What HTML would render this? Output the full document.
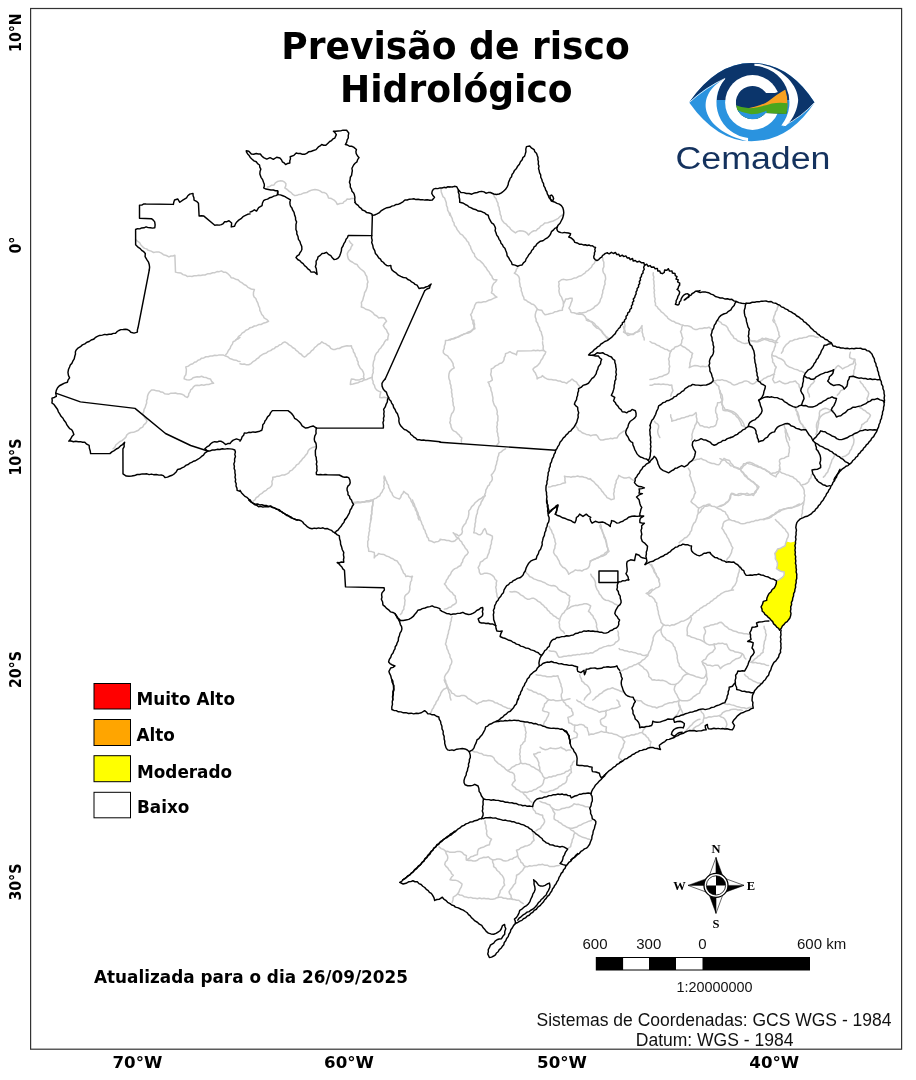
<!DOCTYPE html>
<html lang="pt-BR"><head><meta charset="utf-8"><title>Previsão de risco Hidrológico</title>
<style>
html,body{margin:0;padding:0;background:#fff;}
body{width:916px;height:1080px;position:relative;overflow:hidden;font-family:"DejaVu Sans","Liberation Sans",sans-serif;}
svg text{white-space:pre;}
.dj{font-family:"DejaVu Sans","Liberation Sans",sans-serif;font-weight:bold;fill:#000;}
.ar{font-family:"Liberation Sans",sans-serif;fill:#111;}
.tm{font-family:"Liberation Serif",serif;font-weight:bold;fill:#000;}
</style></head><body>
<svg width="916" height="1080" viewBox="0 0 916 1080" style="position:absolute;left:0;top:0">
<rect x="0" y="0" width="916" height="1080" fill="#fff"/>
<path d="M786.3 541.4 L790.7 542.4 L795.5 541.4 L795 550.1 L795.5 558.8 L796.1 567.6 L796.8 576.3 L796.1 582.8 L795 589.4 L792.8 598.1 L790.7 606.9 L790.7 615.6 L788.5 620 L784.1 624.3 L779.7 630 L775.4 625.4 L771 620 L766.6 615.6 L762.3 611.2 L761.2 606.9 L763.4 601.4 L766.6 600.3 L767.7 595.9 L771 591.6 L775.4 586.1 L776.5 580.7 L780.8 578.5 L784.1 575.2 L784.1 571.9 L779.7 570.8 L776.5 568.6 L777.6 563.2 L775.4 558.8 L774.9 553.4 L777.6 549 L781.9 547.5 L785.2 545.7Z" fill="#ffff00" stroke="none"/>
<g fill="none" stroke="#cbcbcb" stroke-width="1.5" stroke-linejoin="round" stroke-linecap="round">
<path d="M135.6 239.3 L137.35 241.19 L139.57 242.52 L140.87 245.01 L142.89 246.93 L144.46 248.39 L146.66 248.87 L148.27 250.34 L151.1 251.1 L153.66 252.51 L156.43 251.89 L159.21 252.11 L161.45 253.14 L163.46 254.67 L166.33 255.5 L168.97 256.88 L170.89 256.01 L172.97 255.96 L174.88 255.24 L175.5 272.1 L178.21 272.87 L181.02 273.09 L183.05 274.61 L185.49 275.22 L187.55 276.59 L189.76 276.13 L191.97 276.46 L194.11 275.79 L196.3 275.85 L198.44 275.21 L200.67 275.56 L202.8 274.91 L205.01 275.02 L207.47 273.84 L210.19 273.72 L212.67 272.69 L214.93 272.63 L216.98 271.58 L219.27 271.65 L221.38 270.89 L223.45 272.17 L225.88 272.37 L227.86 273.7 L229.73 275.45 L231.14 277.65 L233.46 278.11 L235.54 279.19 L237.82 279.65 L239.81 281.53 L242.16 282.93 L243.98 284.51 L246.23 285.49 L247.89 287.32 L250.04 288.44"/>
<path d="M235.6 340 L237.48 338.54 L238.59 336.35 L240.67 335.09 L242.05 333.15 L244.17 331.98 L245.87 330.24 L248.18 329.38 L249.94 327.72"/>
<path d="M267.5 186.9 L269.76 186.49 L271.73 185.18 L274.03 184.9 L275.38 182.88 L277.37 181.57 L280.02 180.87 L282.8 181.05 L284.58 182.14 L285.93 183.79 L285.76 185.93 L284.79 187.97 L287.21 189.5 L289.25 191.37 L291.27 192.6 L292.79 194.46 L294.86 195.63 L297.01 195.33 L299.08 194.43 L301.32 194.17 L303.94 192.89 L306.83 192.5 L309.41 190.92 L312.25 189.89 L314.95 189.61 L317.7 189.89 L320 190.94 L322.08 192.44 L324.34 192.59 L326.38 193.56 L327.69 195.61 L328.49 197.95 L331.48 198.6 L334.08 200.06 L336.02 201.97 L337.23 204.45 L339.99 203.53 L342.81 203.36 L344 201.59 L345.96 200.67 L347.12 198.92 L349.4 199.21 L351.52 198.44 L353.71 198.57"/>
<path d="M349.3 240.9 L350.71 243.05 L352.68 244.73 L351.19 246.84 L350.5 249.25 L348.53 251.15 L347.29 253.57 L347.59 256.28 L348.38 258.98 L350.21 260.96 L352.66 262.22 L354.63 263.74 L357.03 264.45 L358.43 266.82 L360.35 268.76 L363.45 271.07 L364.86 272.68 L365.56 274.75 L366.85 276.47 L367.13 279.25 L368.01 281.88 L367.19 284.04 L367.36 286.33 L366.7 288.48 L365.87 290.74 L364.52 292.76 L364.23 295.05 L363.45 297.19 L362.79 300.08 L361.34 302.68 L361.61 304.85 L361.28 307 L363.72 307.77 L365.67 309.26 L368.6 309.94 L371.17 311.48 L373.08 312.82 L374.46 314.74 L376.88 315.99 L378.74 317.98 L381.55 317.51 L384.3 318.01 L386.56 321.16 L384.65 323.25 L383.25 325.64 L384.69 327.92 L386.54 329.97 L387.34 332.25 L388.68 334.26 L387.94 337.12 L387.7 340.02"/>
<path d="M250 288.5 L252.12 289.35 L254.42 289.5 L253.51 292.23 L253.41 295.02 L254.11 297.01 L255.83 298.47 L256.56 300.53 L257.9 303.1 L258.59 305.94 L259.73 308 L259.81 310.42 L260.95 312.48 L261.77 314.44 L263.29 315.99 L264.13 317.95 L266.58 319.31 L268.57 321.24 L265.93 322.5 L263.07 323.34 L261.06 324.49 L258.66 324.54 L256.62 325.66 L254.29 326 L252.26 327.25 L249.97 327.71"/>
<path d="M441 189.1 L441.25 191.91 L442.2 194.58 L442.9 196.58 L444.63 198 L445.31 200.05 L446.32 202.68 L446.45 205.51 L447.49 207.61 L447.6 210.02 L448.79 212.07 L449.9 215.34"/>
<path d="M493.7 194.6 L494.49 196.9 L496.14 198.78 L496.81 201.15 L498 203.18 L498.05 205.61 L499.21 207.66 L499.3 209.89 L500.1 211.99 L500.09 214.22 L501.23 216.3 L501.31 218.72 L502.45 220.78 L504.04 222.79 L506.22 224.24 L507.84 226.26 L509.55 227.46 L510.65 229.25 L512.25 230.56 L515.46 232.86 L517.53 231.36 L519.95 230.69 L522.64 230.96 L525.28 231.8 L527.09 233.21 L528.53 235.07 L530.12 233.22 L531.93 231.73 L533.96 230.79 L536.22 230.66 L537.52 228.98 L539.41 227.95 L540.52 226.12 L542.93 224.79 L544.93 222.91 L547.76 222.73 L550.38 221.81 L553.23 220.99 L555.86 219.59 L558.3 218.31 L560.23 216.31 L563.17 214.29"/>
<path d="M450 213.1 L450.81 215.96 L452.29 218.56 L452.6 220.91 L454.03 222.88 L454.3 225.23 L456.15 227.16 L457.13 229.63 L458.77 231.66 L460.26 233.81 L462.59 235.14 L464.12 237.28 L465.81 238.88 L466.92 240.97 L468.65 242.56 L469.13 244.64 L470.47 246.34 L470.85 248.44 L471.86 250.28 L472.7 252.31 L474.33 253.91 L474.8 256.17 L476.25 257.87 L477.81 259.64 L479.99 260.68 L481.64 262.37 L483.28 263.98 L484.44 266 L486.09 267.63 L487.29 270.02 L489.11 271.98 L490.3 274.37 L491.82 275.91 L492.4 278.02 L493.8 279.64 L496.9 279.79 L495.72 281.73 L493.87 283.24 L492.69 285.27 L491.91 287.69 L492.25 290.32 L491.39 292.78 L493.45 294.09 L494.94 295.92 L496.94 297.15 L494.13 298.12 L491.52 299.45 L488.66 300.28 L486.03 301.68 L483.53 301.72 L481.14 302.47 L478.62 302.19 L476.21 302.77 L474.77 305.27 L474.08 308.13 L472.69 310.19 L472.05 312.62 L470.61 314.66 L471.6 316.81 L471.79 319.16 L472.95 321.18 L472.93 323.46 L473.99 325.54 L473.95 327.81 L472.63 330.16 L470.64 332.05 L468.25 333.12 L465.59 333.41 L463.11 334.35 L460.84 335.22 L458.94 336.85 L456.57 337.54 L454.52 338.72 L452.07 338.84 L450.04 340.11"/>
<path d="M517.7 267.7 L516.33 269.37 L515.79 271.54 L514.31 273.15 L516.83 274.54 L518.74 276.58 L519.54 278.98 L519.37 281.59 L519.98 284.09 L520.08 286.37 L521.31 288.37 L521.19 290.72 L522.15 292.79 L522.54 295.08 L523.71 297.13 L524.12 299.43 L526.19 300.24 L527.78 301.74 L529.73 302.65 L531.42 303.96 L533.56 304.5 L535.15 305.99 L537.35 309.17 L535.92 311.82 L535.25 314.72 L535.23 316.91 L536.05 319 L536.15 321.21 L537.63 323.23 L538.21 325.69 L539.56 327.77 L539.86 330.09 L541.32 332.01 L541.63 334.32 L542.63 337.08 L542.71 340.02"/>
<path d="M537.3 309.2 L539.42 310.09 L541.73 310.2 L543.13 312.67 L545.05 314.66 L547.73 314.31 L550.38 313.51 L552.69 313.13 L554.69 311.81 L557.02 311.47 L559.63 310.51 L562.41 310.37 L562.42 308.07 L563.46 306.02 L563.42 303.79 L563.23 301.53 L562.31 299.42 L561.52 297.11 L560 295.13 L559.3 292.75 L558.88 290.63 L559.35 288.42 L558.58 286.27 L559.16 284.06 L558.63 281.9 L561.43 279.74 L563.93 279.35 L566.47 280.05 L569 279.62 L571.58 279.18 L574.01 278.1 L576.62 277.69 L578.7 276.29 L581.17 275.75 L583.16 274.22 L584.96 273.08 L586.25 271.31 L588.23 270.36 L589.63 268.71 L591.46 267.24 L592.41 265.02 L594.17 263.46 L595.81 260.05"/>
<path d="M602.8 257.9 L602.86 260.15 L603.87 262.24 L603.8 264.52 L603.91 266.73 L602.83 268.78 L602.91 271.02 L603.55 272.91 L604.84 274.55 L605.4 276.55 L605.65 279.05 L604.79 281.54 L605.06 284.1 L604.01 286.21 L603.74 288.57 L602.72 290.67 L602.73 292.92 L601.91 295.01 L601.76 297.21 L600.43 299.3 L599.91 301.77 L598.41 303.76 L596.98 305.3 L594.98 306.23 L593.67 308 L591.84 309.13 L590.08 310.2 L588.04 310.7 L586.35 312.01 L584.27 312.44 L581.76 313.08 L579.11 312.84 L576.62 313.71 L573.95 312.83 L571.18 312.61 L570.36 310.17 L568.91 308.14 L570.29 305.48 L571.09 302.66 L572.07 300.58 L572.19 298.27 L570.06 298.16 L567.92 299 L565.69 298.93 L564.78 301.48 L563.45 303.78"/>
<path d="M576.6 313.6 L578.75 314.27 L581.06 314 L583.18 314.8 L585.16 316.61 L586.42 319.06 L588.5 319.77 L590.01 321.34 L591.94 322.23 L593.24 324.73 L595.28 326.64 L596.84 328.12 L598.96 328.74 L600.66 330.07 L602.3 331.66 L603.34 333.78 L605.07 335.34 L606.52 337.8 L608.35 339.96"/>
<path d="M624.7 321.2 L624.39 323.4 L625.04 325.6 L624.59 327.8 L624.52 330.05 L623.5 332.07 L625.98 333.45 L627.87 335.44 L630.6 334.58 L633.42 334.41 L635.04 332.62 L637.3 331.73 L638.87 329.96 L640.72 327.96 L642.05 325.56 L641.81 327.77 L642.4 329.93 L642.05 332.1 L642.85 334.02 L642.98 336.11 L644.12 337.92 L644.2 340.03"/>
<path d="M653.3 272.8 L653.07 275 L653.9 277.14 L653.38 279.36 L654 281.51 L653.85 283.7 L654.32 285.87 L653.83 288.07 L654.54 290.22 L654.05 292.43 L654.5 294.6 L654.4 296.8 L655.19 298.92 L654.73 301.17 L655.54 303.29 L655.41 305.51 L657.16 306.74 L658.22 308.58 L659.86 309.84 L661.39 311.95 L663.62 313.34 L665.23 315.38 L667 316.54 L667.98 318.49 L669.75 319.65 L671.78 320.96 L674.19 321.59 L676.15 323.09 L678.48 323.48 L680.54 324.64 L682.82 325.14 L684.92 325.84 L687.17 325.64 L689.28 326.32 L691.29 327.04 L692.86 328.58 L694.85 329.42 L697.37 329.38 L699.81 328.39 L702.42 328.51 L704.55 327.75 L706.85 327.98 L708.98 327.2 L712.14 329.59"/>
<path d="M682.8 325.2 L681.73 327.25 L681.67 329.65 L680.52 331.67 L681.54 333.83 L681.91 336.15 L682.89 338.27 L681.81 340.38 L681.66 342.74 L680.53 344.78 L677.98 346.22 L675.07 346.94 L673.88 348.72 L671.93 349.7 L670.76 351.46 L669.72 353.86 L669.61 356.55 L668.54 358.98 L669.26 361.49 L668.98 364.12 L669.77 366.59 L668.99 368.74 L669.29 371.05 L668.49 373.18 L666.51 374.52 L664.12 375.24 L662.05 376.59 L659.37 376.86 L657 378.16 L654.39 378.55 L652.25 379.35 L649.98 379.61"/>
<path d="M650 341.5 L652.04 342.91 L654.56 343.38 L656.56 344.87 L658.87 345.7 L660.86 347.14 L663.14 348.01 L664.89 349.18 L667.04 349.44 L668.7 350.8 L670.74 351.31"/>
<path d="M680.6 344.8 L682.57 346.56 L685.13 347.44 L687.05 349.27 L689.07 350.46 L690.67 352.19 L692.66 353.42 L691.79 355.35 L691.83 357.44 L690.71 359.21 L690.5 361.23 L689.81 363.33 L690.01 365.59 L689.2 367.68 L691.95 366.36 L694.83 365.58 L697.56 365.73 L700.19 366.66 L702.75 366.17 L705.35 366.69 L707.9 366.13"/>
<path d="M650 385.2 L652.26 385.18 L654.34 384.11 L656.61 384.18 L658.79 383.98 L660.94 384.46 L663.14 384.08 L665.3 384.58 L667.5 384.39 L669.61 385.21 L671.81 385.1 L672.13 387.99 L673 390.68 L671.49 393.27 L670.77 396.13"/>
<path d="M654.4 421.2 L655.58 422.91 L657.52 423.88 L658.64 425.66 L658.55 427.8 L657.81 429.91 L657.69 432.12 L658.45 434.95 L659.9 437.56"/>
<path d="M670.7 414.7 L670.72 416.93 L671.79 418.97 L671.72 421.21 L673.66 420.44 L675.69 420.25 L677.49 419.24 L679.52 419.08 L681.56 417.97 L683.91 417.84 L685.97 416.8 L687.99 416.57 L689.75 415.46 L691.87 415.57 L693.68 414.63 L695.96 412.56 L696.47 414.64 L696.2 416.87 L696.94 418.99 L696.79 421.21 L698.73 423.27 L700.12 425.66 L702.48 425.84 L704.51 427.05 L706.86 427.02 L708.99 427.85 L711.05 426.73 L713.45 426.67 L715.47 425.52 L716.41 423.46 L716.77 421.13 L717.79 419.03 L716.93 416.88 L716.98 414.55 L715.76 412.55 L715.56 410.28 L715.93 407.68 L717.2 405.3 L717.59 402.67 L719.99 402.52 L722.08 401.52 L721.86 399.32 L720.68 397.28 L720.79 394.91 L719.79 392.83 L719.7 390.61 L718.92 388.51 L718.89 386.28 L716.81 384.88 L715.33 382.87 L713.26 381.54"/>
<path d="M691.5 440 L692.21 437.41 L691.88 434.68 L692.68 432.11 L693.25 429.84 L694.47 427.8 L694.88 425.44 L696.29 423.48 L696.8 421.16"/>
<path d="M722.1 401.6 L722 403.82 L722.95 405.91 L722.58 408.16 L723.17 410.29 L725.27 410.82 L727.55 410.72 L729.69 411.48 L731.71 412.21 L733.24 413.81 L735.25 414.61 L736.46 416.64 L738.34 418.08 L739.42 420.16 L740.84 422.75 L741.62 425.63 L744.04 426.41 L746.07 427.86"/>
<path d="M717.7 319.7 L718.92 321.41 L720.89 322.38 L722.04 324.16 L724.35 324.95 L726.38 326.24 L727.77 327.87 L728.37 330.01 L729.79 331.65 L730.96 334.04 L732.92 335.91 L734.04 338.34 L736.08 339.06 L737.53 340.72 L739.54 341.43 L742.14 342.87 L745.04 343.61 L747.2 343.35 L749.28 342.51"/>
<path d="M713.3 380.8 L715.54 380.87 L717.66 379.9 L719.93 380.25 L722.09 379.63 L724.22 380.58 L726.54 380.86 L728.57 381.98 L730.61 382.71 L732.14 384.31 L734.15 385.11 L736.89 384.31 L739.46 382.9 L741.81 382.58 L743.82 381.29 L746.13 380.88 L748.41 381.61 L750.34 383.18 L752.64 384.02 L754.62 383.3 L756.15 381.71 L758.15 380.89"/>
<path d="M778.8 305.5 L777.39 307.54 L776.92 310.06 L775.43 312.06 L775.01 314.34 L773.95 316.38 L773.49 318.63 L774.83 321.24"/>
<path d="M774.5 374.3 L772.22 374.81 L770.16 375.95 L767.87 376.41 L766.16 377.72 L764.09 378.38 L762.44 379.76 L759.17 381.86"/>
<path d="M749.3 340.4 L751.82 341.11 L754.48 340.78 L756.99 341.58 L758.69 340.24 L760.68 339.5 L762.35 338.22 L765.05 339.6 L767.94 340.3 L770.02 341.37 L772.41 341.54 L774.48 342.66 L777.7 342.49"/>
<path d="M795.2 408.1 L795.99 410.46 L797.72 412.34 L798.43 414.74 L799.09 416.83 L799.08 419.06 L799.69 421.18 L800.98 423.56 L802.88 425.54 L803.68 427.91 L805.09 429.95"/>
<path d="M815.9 434.3 L816.79 432.21 L816.65 429.86 L817.82 427.84 L818.04 425.58 L818.62 423.43 L818.52 421.15 L819.28 419.01 L820.58 416.64 L822.56 414.75 L825.07 413.28 L827.93 412.56 L830.52 411.07 L833.44 410.39"/>
<path d="M784.3 425.6 L784.7 427.88 L786.11 429.82 L786.42 432.13 L787.51 433.99 L787.95 436.11 L789.2 437.91 L789.62 440.03"/>
<path d="M772.7 320 L773.58 321.93 L775.33 323.27 L776.13 325.25 L777.26 327.78 L777.85 330.51 L778.81 332.44 L778.84 334.64 L779.8 336.57 L777.75 338.64 L776.28 341.06 L775.41 343.25 L775.41 345.68 L774.4 347.88 L773.84 350.33 L772.43 352.46 L771.89 354.93 L771.9 357.26 L772.69 359.53 L772.59 361.91 L774.05 363.54 L774.74 365.63 L776.28 367.15 L775.01 369.69 L774.57 372.42 L773.72 374.69 L773.64 377.15 L772.6 379.37 L774.57 382.86 L777.16 382.17 L779.68 381.04 L782.16 382.73 L784.93 383.74 L787.67 383.27 L790.17 381.91 L792.84 381.76 L795.38 381.01 L796.98 383.02 L798.98 384.52 L799.14 386.74 L800.37 388.59 L800.61 390.73"/>
<path d="M750 340.1 L752.49 341.28 L755.23 341.7 L757.89 341.67 L760.49 340.93 L763.17 339.79 L765.66 338.22 L769.18 339.28 L771.62 339.47 L773.8 340.64 L776.23 340.9"/>
<path d="M771.8 354.9 L773.69 356.12 L776.01 356.37 L777.87 357.68 L780.65 358.7 L783.18 360.24 L784.63 361.76 L785.31 363.82 L786.79 365.34 L789.19 366.92 L791.95 367.91 L794.48 369.11 L797.23 369.7 L799.38 370.98 L801.89 371.29 L804.07 372.48"/>
<path d="M781.4 353.2 L782.88 351.02 L783.41 348.37 L784.97 346.24 L786.51 344.31 L788.55 342.85 L790.13 340.93 L792.6 340.66 L794.78 339.47 L797.22 339.27 L799.42 338.3 L801.85 338.29 L804.07 337.4 L806.52 337.22 L808.7 336.05 L811.12 335.78 L813.51 335.99 L815.72 337.1 L818.12 337.41"/>
<path d="M850.4 352.3 L849.65 354.9 L849.71 357.62 L852.11 358.71 L854.82 359.24 L855.09 361.93 L855.79 364.48 L854.84 366.49 L854.83 368.73 L853.83 370.68 L853.84 373.5 L853.03 376.19"/>
<path d="M854.8 359.3 L853.73 361.41 L853.15 363.72 L850.31 364.72 L847.82 366.35 L845.07 367.34 L842.63 368.97 L840.51 367.01 L838.15 365.47 L836.61 366.75 L835.45 368.52 L833.76 369.76"/>
<path d="M809.4 396.9 L809.14 394.48 L807.85 392.32 L807.68 389.88 L808.58 388.01 L810.07 386.45 L811.02 384.55 L813.04 383.04 L814.53 381.03 L812.95 379.35"/>
<path d="M837.3 395.1 L839.32 393.12 L840.72 390.63 L844.34 389.07"/>
<path d="M860 381.1 L861.14 382.99 L862.81 384.48 L863.72 386.54 L865.34 388.07 L866.23 390.03 L867.84 391.5 L868.76 393.43 L868.17 396.09 L866.95 398.58 L867.98 402.08"/>
<path d="M796.3 408.2 L796.25 410.28 L797.25 412.21 L797.12 414.31 L798.28 416.56 L798.78 419.02 L799.89 421.27 L800.74 423.22 L802.42 424.64 L803.24 426.64 L804.86 427.93 L805.85 429.74"/>
<path d="M817.2 431.8 L817.17 429.44 L816.47 427.16 L816.49 424.79 L817.1 422.4 L818.4 420.23 L818.93 417.77 L819.47 415.49 L819.32 413.1 L819.95 410.81 L822.38 409.26 L825.12 408.25 L827.18 408.63 L829.09 409.65 L831.23 409.9"/>
<path d="M858.3 406.5 L859.93 407.78 L861.9 408.48 L863.38 409.99 L865.33 410.75 L866.85 412.49 L868.93 413.54 L870.47 415.24 L869.58 417.37 L868.02 419.18 L867.07 421.34 L865.17 422.32 L863.63 423.78 L861.76 424.73 L861.54 426.93 L860.42 428.81 L860.06 430.92"/>
<path d="M853.1 434.4 L853.02 437.07 L853.99 439.63 L853.82 442.31 L853.24 444.71 L852.02 446.91 L851.39 449.33 L849.91 450.88 L849.25 452.96 L847.74 454.46 L845.62 455.98 L843.03 456.63 L840.85 458.09"/>
<path d="M835.6 454.5 L834.24 456.1 L833.43 458.08 L832.02 459.65 L831.37 462.41 L830.22 464.97 L829.67 467.42 L828.4 469.61 L827.78 472.03 L826.14 473.63 L825.04 475.63 L823.36 477.17"/>
<path d="M113.1 448.8 L114.84 447.22 L115.76 444.97 L117.56 443.45 L119.58 441.75 L121.99 440.6 L124.05 438.92 L125.75 437.33 L126.7 435.12 L128.46 433.55 L130.88 432.47 L133.59 432.32 L136.07 431.3 L138.45 430.21 L140.29 428.25 L142.65 427.07 L143.81 424.96 L145.69 423.46 L146.93 421.45 L146.21 419.42 L144.61 417.81 L144.01 415.62 L142.52 413.95 L143.76 411.85 L144.03 409.46 L145.25 407.44 L145.8 405.16 L146.69 403.07 L146.52 400.75 L147.4 398.64 L147.46 396.36 L148.19 394.22 L149.57 391.91 L151.49 389.97 L153.98 389.97 L156.44 390.84 L159.01 390.91 L160.8 392.03 L162.95 392.25 L164.55 393.75 L166.63 394.12 L168.85 394.14 L170.95 393.14 L173.22 393.2 L175.42 392.98 L177.53 393.82 L179.76 393.68 L181.89 394.29 L183.85 395.1 L185.41 396.66 L187.43 397.45 L188.57 395.75 L188.79 393.59 L190.05 391.87 L190.61 389.86 L192.3 388.6 L193.42 386.82 L195.06 385.56 L197.19 385.21 L199.41 385.51 L201.58 384.83 L203.8 385.2 L206.22 384.49 L208.76 384.54 L211.12 383.59 L213.61 383.37 L211.65 381.38 L210.37 378.94 L208.06 378.55 L206.02 377.41 L203.7 377.22 L201.62 376.25 L199.45 377 L197.18 376.73 L195.01 377.28 L193.04 377.83 L191.52 379.29 L189.55 379.89 L186.81 379.72 L184.12 378.88 L184.48 376.68 L185.87 374.7 L186.19 372.36 L186.37 369.63 L185.79 366.91 L188.35 366.15 L190.38 364.51 L192.83 363.77 L194.39 362.32 L196.46 361.72 L197.98 360.25 L200.02 359.59 L201.56 358.14 L203.84 357.92 L205.86 356.76 L208.17 356.75 L210.29 355.95 L212.5 355.97 L214.63 355.26 L216.86 355.59 L219 354.9 L221.21 354.98 L223.49 355.08 L225.58 356.06 L227.88 356.87 L229.77 358.53 L232.14 359.22 L234.01 360.07 L236.12 360.14 L237.95 361.21 L240.02 361.44"/>
<path d="M225.6 354.9 L227.26 352.87 L228.37 350.46 L230.08 348.45 L230.91 346.12 L232.39 344.13 L233.13 341.77 L234.99 340.87 L236.45 339.41 L238.39 338.72 L239.96 337.43"/>
<path d="M240 363.7 L242.15 364.21 L244.37 364.06 L246.49 364.84 L248.71 364.75 L251.06 363.57 L252.96 361.66 L255.33 360.44 L256.74 358.81 L258.66 357.78 L260 356.07 L261.83 354.94 L263.92 353.66 L266.31 352.99 L268.24 351.35 L270.62 350.65 L272.23 349.32 L274.25 348.66 L275.61 346.97 L277.72 346.45 L279.26 345.04 L281.34 344.34 L282.88 342.75 L284.86 341.89 L287.1 343.08 L289.02 344.89 L291.33 346.15 L292.8 347.75 L294.83 348.68 L296.12 350.48 L297.96 351.63 L299.32 353.29 L301.31 354.21 L302.59 355.97 L304.43 357.06 L306.34 355.8 L307.94 354.07 L309.96 352.88 L311.34 350.97 L313.32 349.67 L314.56 347.64 L316.46 346.26 L318.09 344.55 L320.29 343.54 L321.84 341.72 L323.59 343.09 L325.66 343.75 L327.26 345.17 L329.36 346.28 L330.76 348.29 L332.84 349.45 L335.03 349.52 L337.1 348.58 L339.31 348.48 L341.92 346.98 L344.82 346.25 L346.98 345.79 L349.21 346.1 L351.39 345.7 L351.78 347.88 L353.08 349.63 L353.4 351.74 L354.81 353.76 L355.41 356.18 L356.88 358.16 L357.06 360.21 L358.16 361.98 L358.1 364.07 L359.11 365.87 L360.24 368.22 L362.2 370.05 L363.36 372.43 L363.93 374.4 L363.49 376.5 L364.12 378.49 L361.88 378.65 L359.99 379.72 L357.88 379.93 L355.68 379.98 L353.59 379.17 L351.39 379.08 L350.65 381.66 L350.36 384.41 L353.03 384.02 L355.68 383.2 L357.96 382.75 L360.03 381.63 L362.32 381.17 L364.33 379.89 L366.7 379.53 L368.77 378.43 L372.13 377.28"/>
<path d="M386.3 339.7 L384.64 341.73 L383.53 344.14 L381.82 346.15 L380.74 348.05 L379.07 349.51 L378.2 351.57 L376.56 353.06 L375.47 354.95 L374.69 357.06 L374.56 359.36 L373.58 361.46 L373.25 363.71 L372.94 365.88 L373.56 368.05 L373.01 370.22 L373.26 372.4 L372.35 374.73 L372.21 377.23 L372.17 379.29 L373.08 381.22 L373.08 383.32 L374.45 385.42 L375.07 387.86 L376.56 389.87 L378.56 391.17 L380.83 392.05 L380.02 394.75 L379.8 397.52 L381.9 397.7 L384.1 397.2 L386.3 397.81 L388.5 397.43"/>
<path d="M253.1 501.2 L255 499.82 L256.15 497.7 L258.24 496.52 L259.65 494.65 L261.96 493.37 L263.85 491.5 L266.25 490.37 L267.82 488.57 L270.02 487.56 L271.64 485.82 L272.2 483.75 L271.9 481.51 L272.86 479.42 L272.72 477.19 L275.01 477.12 L277.08 476.15 L279.31 476.16 L281.75 475.09 L284.46 474.97 L286.88 473.84 L288.77 472.82 L289.99 470.95 L292.08 470.13 L293.45 468.44 L295.25 466.98 L296.5 464.95 L298.63 463.8 L299.94 461.84 L301.51 460.39 L302.59 458.52 L304.36 457.23 L305.45 455.36 L307.29 453.42 L308.18 450.83 L309.95 448.83 L312.48 447.41 L315.33 446.67"/>
<path d="M353.5 503 L355.72 503.06 L357.88 502.45 L360.13 502.79 L362.3 502.25 L364.51 502.31 L366.62 501.5 L368.85 501.65 L370.99 501.12 L372.83 500.26 L374.34 498.82 L376.31 498.11 L377.86 496.73 L379.74 495.87 L380.49 493.7 L382.06 492.04 L382.81 489.92 L384.18 488.15 L383.71 486.1 L384.4 484.1 L383.84 482.1 L384.49 480.1 L383.93 478.1 L384.21 476.1 L385.17 477.84 L385.66 479.85 L386.75 481.58 L387.21 483.58 L388.48 485.27 L388.68 487.37 L389.68 489.17 L390.4 491.28 L391.97 492.93 L392.57 495.12 L393.95 496.87 L396.59 498.11 L399.42 498.94 L400.78 497.26 L401.37 495.07 L402.9 493.42 L403.72 491.35 L405.79 493.26 L408.14 494.64 L408.89 497.03 L410.59 498.9 L411.2 501.32 L412.58 503.36 L413.34 505.7 L415.03 507.58 L415.5 510.08 L416.96 512.07 L417.04 514.18 L418.13 516 L418.22 518.09 L419.1 519.97"/>
<path d="M373.2 501.2 L372.69 503.37 L372.84 505.62 L372.06 507.76 L372.15 510.01 L371.59 511.97 L371.91 514.03 L371.27 515.98 L371.5 518.03 L370.95 519.99"/>
<path d="M473.8 320 L473.84 322.2 L474.54 324.33 L474.31 326.56 L474.95 328.69 L472.6 329.54 L470.68 331.12 L468.38 331.95 L466.33 333.35 L463.92 334.05 L461.84 335.37 L459.56 335.96 L457.51 337.12 L455.18 337.53 L453.14 338.7 L450.52 339.12 L448.09 340.21 L445.48 340.61 L445.33 343.53 L444.31 346.18 L444.29 348.44 L443.28 350.54 L443.35 352.81 L445.23 354.69 L447.64 355.94 L448.91 357.95 L450.68 359.55 L451.95 361.54 L453.07 363.55 L453.27 365.9 L454.29 367.97 L451.81 369.4 L449.84 371.36 L448.96 373.99 L448.75 376.81 L449.08 379.02 L450 381.1 L450.04 383.4 L450.98 385.48 L450.94 387.7 L451.75 389.81 L451.46 392.06 L452.07 394.19 L451.93 396.44 L452.88 398.56 L452.61 400.83 L453.19 402.99 L453.18 405.21 L454.2 407.27 L454.1 409.52 L453.3 411.8 L451.65 413.72 L450.95 416.13 L450.28 418.22 L450.5 420.49 L449.74 422.59 L450.8 424.71 L451.11 427.05 L452.09 429.17 L453.62 430.9 L455.85 431.83 L457.43 433.59 L459.1 434.8 L460.13 436.66 L461.86 437.84 L461.3 440.07 L461.48 442.31"/>
<path d="M542.6 341.8 L542.64 344.03 L543.34 346.18 L543.11 348.44 L543.75 350.59 L545.86 351.78 L545.02 353.98 L543.54 355.95 L542.68 358.24 L541.03 360.31 L539.95 362.74 L538.26 364.77 L536.58 366.38 L534.47 367.46 L532.87 369.18 L533.74 371.03 L535.18 372.66 L536.02 374.65 L537.03 376.71 L537.11 379.02 L538.87 377.68 L541.01 377.14 L542.57 375.66 L544.58 377.64 L547.04 378.94 L549.14 379.53 L551.36 379.48 L553.49 380.07 L555.76 380.02 L557.87 380.93 L560.11 381.01 L562.17 382.13 L564.51 382.33 L566.57 383.38 L568.33 381.73 L570.37 380.57 L572.06 378.95 L574.11 380.86 L576.55 382.14 L577.91 384.54 L579.77 386.55"/>
<path d="M543.7 350.6 L541.7 350.36 L539.7 350.8 L537.7 350.28 L535.7 350.78 L533.7 350.31 L531.7 350.67 L517.5 351 L516.78 352.9 L516.48 354.92 L514.31 353.68 L511.95 353 L509.92 351.65 L507.78 352.91 L505.47 353.73 L505.29 355.82 L504.22 357.6 L504.06 359.63 L503.21 361.47 L501.7 362.93 L499.54 363.45 L497.94 364.87 L495.48 365.9 L493.59 367.81 L491.24 369.01 L491.23 371.87 L490.64 374.59 L491.73 377.24 L492.33 380.02 L490.36 381.42 L487.97 382.15 L489.17 383.9 L489.52 386 L490.77 387.67 L490.98 390.3 L492 392.73 L492.35 395.31 L492.97 397.84 L492.81 400.48 L493.58 402.99 L494.39 405.27 L495.97 407.2 L496.73 409.54 L497.31 411.67 L497 413.94 L497.95 416.06 L497.83 418.31 L497.92 420.51 L497.07 422.61 L497.44 424.87 L496.7 426.99 L497.3 429.15 L496.96 431.4 L497.81 433.5 L497.82 435.71 L498.6 437.84 L498.44 440.13 L499.08 442.29 L496.76 445.47"/>
<path d="M505.5 448.8 L503.2 450.07 L501.28 451.9 L498.95 453.12 L498.62 455.42 L497.62 457.48 L497.59 459.79 L496.75 461.89 L496.52 464.17 L495.54 466.26 L495.41 468.56 L494.55 470.69 L493.09 472.96 L491.24 474.95 L492.2 477.11 L492.34 479.41 L491.48 481.25 L489.94 482.71 L489.43 484.83 L487.75 486.2 L486.96 488.14 L485.82 490.18 L485.66 492.55 L484.7 494.67"/>
<path d="M575.4 424.8 L576.26 426.75 L577.7 428.37 L578.52 430.35 L580.52 431.21 L582.12 432.68 L584.14 433.44 L586.25 434.4 L588.59 434.7 L590.68 435.75 L593.35 434.89 L596.11 434.65 L597.71 436.32 L598.83 438.43 L600.58 440.03 L603.06 439.92 L605.54 439.16 L608.11 439.09 L610.25 438.34 L612.54 438.75 L614.67 437.92 L616.91 438.02 L618.36 435.6 L620.19 433.56 L623.36 431.34 L626.72 430.36"/>
<path d="M548.5 487 L550.9 486.68 L553.16 485.71 L555.62 485.66 L557.89 484.75 L560.51 484.38 L562.9 483.16 L565.51 482.75 L564.89 480.54 L565 478.27 L564.42 476.11 L566.64 476.64 L568.86 476.65 L570.99 477.28 L573.14 476.48 L575.43 476.65 L577.59 476.04 L579.71 476.77 L582 476.45 L584.09 477.29 L586.38 477.69 L588.38 479.04 L590.72 479.35"/>
<path d="M586.3 320 L588.39 320.96 L590.7 321.28 L592.77 322.29 L594.57 323.7 L595.9 325.66 L597.92 326.9 L599.36 328.74 L601.09 330.36 L602.2 332.47 L603.86 334.15 L605.48 336 L607.52 337.4 L609.15 339.26"/>
<path d="M623.4 326.6 L623.91 328.84 L625.05 330.87 L625.51 333.13 L627.8 333.29 L629.89 334.12 L632.11 334.13 L634.14 333.54 L635.94 332.29 L638.09 331.88 L639.97 330.83"/>
<path d="M692.4 460.6 L694.63 460.28 L696.7 459.31 L699 459.26 L701.09 458.35 L703.17 459.76 L705.61 460.38 L707.62 461.86 L709.94 462.72 L712.04 463.49 L714.31 463.59 L716.38 464.55 L718.61 464.85 L720.17 463.44 L721.08 461.42 L722.87 460.15 L724.05 458.36 L726.68 459.79 L729.54 460.49 L730.72 462.93 L732.64 464.79 L733.8 467.17 L736.12 467.67 L738.12 468.91 L740.42 469.23"/>
<path d="M740.4 469.3 L742.22 467.84 L743.56 465.91 L745.57 464.65 L746.96 462.76 L749.08 463.87 L751.44 464.17 L753.46 465.36 L755.73 465.92 L757.84 466.98 L760.19 467.4 L762.24 468.64 L764.52 469.25 L766.52 470.98 L769.03 471.94 L770.97 473.75 L773.12 472.94 L775.43 472.9 L777.43 471.67 L779.72 471.59"/>
<path d="M740.4 469.3 L741.67 471.63 L743.5 473.59 L744.72 475.95 L746.56 477.11 L747.92 478.82 L749.91 479.76 L751.37 481.34 L753.47 482.45 L755.1 484.19 L757.25 485.21 L758.97 486.84 L758.05 488.64 L756.58 490.14 L756 492.21 L754.44 493.66 L753.55 495.53 L751.43 494.47 L749.04 494.4 L747.03 493.22 L744.89 494.1 L742.55 494.02 L740.52 495.12 L738.27 495.39 L736.03 494.98 L733.96 493.85 L731.68 493.35 L730.74 495.43 L730.57 497.81 L729.44 499.88 L728.07 501.48 L726.05 502.36 L724.78 504.14 L722.94 505.23 L720.86 506.2 L718.54 506.6 L716.42 507.56 L714.34 506.46 L711.98 506.28 L709.92 505.23 L707.21 506.14 L704.38 506.32 L703.23 508.2 L701.43 509.48 L700.6 511.56 L698.95 512.96"/>
<path d="M716.4 507.5 L718.49 508.81 L720.89 509.52 L722.86 511.08 L725.22 511.85 L726.02 513.94 L727.57 515.58 L728.27 517.69 L729.57 519.46 L731.65 520.39 L733.98 520.72 L736.08 521.75 L738.32 522.26 L740.35 523.41 L742.63 523.8 L744.85 523.53 L746.95 522.59 L749.28 522.55 L751.37 521.59 L753.65 521.44 L755.69 520.35 L758.02 520.43 L760.09 519.45 L762.32 519.59 L764.42 518.72 L766.65 518.87 L768.79 518.34 L771.13 517.16 L773.01 515.24 L775.43 514.15 L777.4 512.39 L779.91 511.43 L781.86 509.64 L784.17 509.43 L786.26 508.43 L788.54 508.22 L790.68 507.44 L792.95 507.26 L794.99 506.15 L797.28 506.08 L799.38 505.21 L801.76 503.92 L803.76 502.04"/>
<path d="M729.5 519.5 L726.71 520.38 L724.12 521.75 L723.07 523.8 L722.8 526.16 L721.82 528.27 L723.54 530.33 L724.62 532.73 L726.27 534.75 L727.15 537.08 L728.64 539.08 L729.45 541.42 L730.76 543.48 L731.47 545.85 L732.9 547.85 L731.89 550.04 L731.54 552.37 L730.51 554.47 L729.26 556.89 L727.23 558.75 L726.27 562.12"/>
<path d="M775.4 519.5 L776.66 521.13 L778.41 522.3 L779.63 523.97 L781.66 525.57 L783.16 527.71 L785.25 529.25 L786.15 531.22 L787.64 532.82 L788.46 534.83 L788.02 537.08 L786.87 539.14 L786.35 541.42"/>
<path d="M785.2 430 L785.24 432.2 L785.94 434.33 L785.71 436.56 L786.35 438.69 L786.85 441 L788.18 443.01 L788.61 445.36 L789.68 447.47 L789.16 449.65 L789.31 451.88 L788.6 454 L788.55 456.21 L786.21 456.78 L784.23 458.19 L781.83 458.5 L779.72 459.56 L779.39 461.5 L780.09 463.5 L779.4 465.5 L779.96 467.5 L779.31 469.5 L779.75 471.5 L781.74 472.93 L784.13 473.64 L786.21 474.68 L788.51 475.12 L790.54 476.32 L792.84 476.8 L794.32 478.43 L796.29 479.42 L797.55 481.27 L799.45 482.34 L800.62 484.76 L802.48 486.7 L803.76 489.03 L804.34 491.13 L804.15 493.38 L804.88 495.49 L804.23 497.66 L804.43 499.95 L803.72 502.09 L803.66 504.31 L802.72 506.37 L802.8 508.62 L802.21 510.75 L802.45 512.99 L801.59 515.09 L801.71 517.31"/>
<path d="M740.4 566.5 L739.47 568.97 L739.19 571.62 L738.21 574.07 L737.92 576.32 L736.92 578.38 L736.89 580.69 L736.05 582.79 L734.87 585.16 L733.03 587.11 L731.77 589.44"/>
<path d="M648.7 593.8 L650.67 592.5 L652.12 590.56 L654.24 589.44 L655.86 588.02 L657.96 587.35 L659.67 586.04 L659.73 583.51 L658.76 581.06 L658.69 578.49 L656.91 576.45 L655.89 573.95 L654.13 571.95 L653.29 569.12 L651.9 566.54 L650.48 564.72 L648.65 563.25"/>
<path d="M776.5 580.7 L778.76 579.81 L780.77 578.45 L782.67 577.07 L784.06 575.16 L784.19 571.9 L781.84 571.59 L779.71 570.75 L776.45 568.67 L777.22 565.93 L777.52 563.18 L776.66 560.92 L775.35 558.82 L775.41 556.08 L774.79 553.41 L776.41 551.3 L777.55 548.97 L779.85 548.54 L781.86 547.39 L785.24 545.78 L785.5 543.49 L786.41 541.43"/>
<path d="M353.5 502.2 L355.71 502.31 L357.89 501.75 L360.12 502.14 L362.3 501.65 L364.52 501.65 L366.62 500.78 L368.87 500.85 L370.98 500.06 L373.21 500.05"/>
<path d="M373.2 500 L372.69 502.15 L372.84 504.37 L372.06 506.49 L372.15 508.71 L371.54 510.86 L371.8 513.13 L371.1 515.28 L371.08 517.51 L370.56 519.65 L370.71 521.88 L370 524 L369.95 526.21 L369.37 528.34 L369.71 530.59 L368.89 532.7 L368.86 534.91 L368.22 537.06 L368.63 539.35 L367.68 541.46 L367.78 543.71 L367.68 546.29 L368.6 548.74 L368.69 551.32 L371.6 551.62 L374.29 552.46 L374.49 555.15 L374.23 557.9 L375.48 556.18 L377.31 555.11 L378.54 553.44 L381.29 554.36 L384.11 554.53 L386.17 555.96 L388.58 556.64 L390.68 557.95 L392.96 558.78 L394.89 560.32 L397.23 561.03 L398.66 563.44 L400.57 565.45 L401.35 568.35 L402.76 570.97 L403.47 572.98 L405.12 574.43 L405.84 576.43 L408.1 576.1 L410.3 576.69 L412.5 576.29 L411.63 578.23 L411.62 580.31 L410.47 582.07 L410.35 584.12 L409.68 586.6 L409.9 589.22 L409.14 591.69 L407.93 593.36 L406.15 594.51 L404.87 596.17 L404.46 598.27 L405.1 600.43 L404.69 602.6 L404.7 604.84 L403.81 606.95 L403.89 609.21 L402.44 610.84 L401.83 612.94 L400.41 614.54"/>
<path d="M412.5 500 L413.16 502.27 L414.44 504.29 L414.85 506.66 L416.18 508.65 L416.82 510.93 L417.99 512.99 L418.46 515.32 L419.74 517.34 L420.18 519.68 L421.27 521.77 L421.92 524.07 L423.13 526.13 L423.6 528.5 L425.05 530.47 L425.55 532.82 L426.62 534.61 L426.97 536.72 L428.43 538.35 L428.82 540.44 L431.7 541.26 L434.26 542.71 L436.14 541.71 L438.23 541.47 L439.98 540.34"/>
<path d="M485.2 495.6 L483.7 497.68 L482.65 500.03 L481.22 502.03 L480.56 504.43 L479.04 506.39 L478.27 508.73 L477.48 510.86 L477.37 513.17 L476.39 515.26 L476.08 517.52 L475.55 519.65 L475.63 521.87 L474.92 523.99 L475.01 526.21 L474.35 528.37 L474.38 530.64 L473.71 532.78 L476.12 533.13 L478.11 534.48 L480.42 534.83 L482.19 532.95 L483.19 530.47 L484.89 528.46 L486.06 531.02 L486.85 533.82 L489.72 534.73 L492.37 536.07 L492.39 538.62 L491.47 541.1 L491.39 543.71 L490.45 545.8 L490.44 548.11 L489.37 550.15 L489.15 552.41 L487.84 555.09 L486.96 557.92 L484.55 559.06 L482.71 560.99 L480.36 562.14 L479.58 565.06 L478.13 567.67 L479.15 569.79 L479.33 572.15 L480.49 574.17 L482.6 574.05 L484.68 573.17 L486.91 573.18 L489.79 573.86 L492.36 575.39 L494.05 576.99 L495.02 579.21 L496.84 580.76 L496.18 582.92 L496.4 585.19 L495.64 587.29 L496.34 589.45 L496.27 591.73 L496.89 593.88 L497.02 596.18 L497.99 598.28"/>
<path d="M485.2 495.6 L483.04 496.78 L481.26 498.51 L478.95 499.46 L477.13 501.14 L475.09 502.73 L473.68 504.94 L471.66 506.56 L470.48 508.91 L468.76 510.87 L468.86 513.67 L468.35 516.4 L467.7 518.63 L466.42 520.64 L465.9 522.94 L464 524.99 L462.55 527.34 L461.96 529.43 L462.42 531.67 L461.71 533.79 L458.64 536.06 L456.96 534.59 L454.85 534.01 L453.16 532.71 L454.93 534.81 L456.35 537.14 L458.63 538.15 L456.65 539.1 L455.12 540.71 L453.07 541.45 L450.88 541.43 L448.82 540.46 L446.59 540.47 L444.45 539.75 L442.17 539.84 L440.01 539.25"/>
<path d="M458.6 538.2 L459.77 540.25 L461.62 541.83 L462.49 544.08 L464.08 545.84 L465.32 548.17 L467.12 550.11 L468.3 552.47 L467.1 554.36 L465.22 555.87 L464.06 557.95 L462.93 559.69 L462.61 561.81 L461.34 563.52 L460.8 565.54 L458.71 566.44 L457.01 567.89 L454.92 568.66 L453.13 569.96 L451.42 571.92 L450.48 574.44 L448.64 576.36 L447.79 578.42 L446.36 580.14 L445.82 582.37 L444.35 584.07 L446.07 585.71 L447.07 587.86 L448.77 589.44 L450.18 591.32 L452.23 592.57 L453.45 594.65 L455.37 596.03 L455.3 598.33 L456.33 600.38 L456.34 602.61 L454.68 604.2 L452.49 605.23 L450.95 607.06 L448.67 607.54 L446.69 608.83 L444.37 609.12"/>
<path d="M452 616.8 L451.33 618.71 L451.31 620.76 L450.37 622.61 L450.41 624.68 L449.72 626.58 L449.49 628.86 L448.53 630.96 L448.42 633.27 L447.55 635.39 L447.33 637.64 L446.38 639.71 L446.2 641.97 L445.42 644.08 L446.64 646.15 L446.92 648.52 L448.1 650.55 L448.61 652.83 L449.89 654.86 L450.07 657.3 L451.41 659.31 L451.89 661.64 L451.34 663.84 L450.01 665.82 L449.74 668.21 L448.65 670.28 L447.42 672.6 L445.64 674.57 L444.49 676.96 L444.75 679.12 L445.79 681.18 L445.75 683.5 L446.67 685.58 L447.13 687.88 L448.36 689.89 L448.84 692.19 L449.86 694.28 L450.03 697.21 L450.98 699.99"/>
<path d="M549.2 526.2 L550.06 528.48 L551.53 530.46 L552.14 532.87 L553.55 534.88 L553.77 537.17 L554.84 539.24 L554.98 541.54 L555.78 543.68 L554.99 545.83 L554.86 548.11 L553.88 550.18 L553.55 552.41 L554.75 554.75 L556.73 556.6 L557.85 559.03 L559.19 561.07 L559.82 563.47 L561.3 565.45 L562.81 567.2 L564.96 568.24 L566.53 569.99 L567.85 571.97 L568.7 574.25 L570.87 572.57 L573.31 571.5 L575.37 569.85 L577.53 570.5 L579.79 570.28 L581.89 571.06 L583.97 569.63 L586.44 569.08 L588.47 567.63 L589.51 565.59 L589.8 563.24 L590.75 561.12 L592.77 559.85 L595.18 559.26 L597.17 557.83 L599.51 557.01 L601.47 555.43 L603.84 554.67 L605.07 552.97 L606.92 551.91 L608.03 550.13 L607.76 547.97 L606.71 545.92 L606.73 543.6 L605.79 541.53 L605.41 539.21 L604.08 537.23 L603.87 534.84 L602.65 532.82 L602.4 530.54 L601.27 528.48 L601.24 526.15 L600.42 524.02"/>
<path d="M525.2 571 L526.45 572.95 L528.22 574.48 L529.43 576.46 L531.78 577.34 L533.77 578.86 L536.13 579.63 L538.21 580.6 L540.52 580.9 L542.58 581.95 L544.92 582.76 L546.92 584.26 L549.22 585.15 L551.33 585.79 L553.59 585.51 L555.69 586.26 L557.32 587.52 L558.41 589.35 L560.18 590.52 L562.69 591.98 L565.53 592.73 L567.46 594.77 L569.93 596.06 L569.26 598.23 L569.58 600.48 L568.88 602.6 L568.86 604.81 L567.49 606.9 L566.7 609.25 L565.09 610.7 L564.13 612.64 L562.31 613.87 L561.26 615.75 L560.19 617.81 L559.9 620.16 L558.95 622.28 L559.57 624.43 L559.41 626.69 L560.18 628.79 L561.4 630.43 L563.25 631.52 L564.44 633.26"/>
<path d="M509.9 591.7 L512.07 591.94 L514.23 591.5 L516.4 591.79 L518.7 593.02 L520.64 594.87 L523.04 596.04 L525.05 597.84 L527.35 599.23 L529.53 599.13 L531.66 598.37 L533.91 598.35 L536.17 599.58 L538.09 601.39 L540.46 602.51 L541.73 604.2 L543.48 605.38 L544.73 607.07 L546.54 608.19 L547.52 610.14 L549.25 611.35 L550.35 613.11 L552.19 614.15 L553.42 615.78 L555.45 616.6 L557.07 618.07 L559.03 618.95"/>
<path d="M566.6 609.2 L568.91 608.31 L570.91 606.82 L573.24 605.98 L575.34 605.36 L577.58 605.45 L579.69 604.73 L581.93 604.6 L584.05 603.79 L586.31 603.75 L588.62 604.56 L590.68 605.95 L589.77 608.72 L588.43 611.37 L590.19 612.58 L591.23 614.4 L592.85 615.65 L593.62 618.04 L595.35 619.93 L596.02 622.34 L596.72 624.42 L596.44 626.7 L597.25 628.79 L598.2 632.13"/>
<path d="M590.7 574.2 L591.93 576.53 L593.73 578.49 L594.92 580.85 L595.54 582.94 L595.45 585.18 L596.17 587.29 L597.04 589.58 L598.55 591.57 L599.35 593.92 L601.07 595.53 L602.2 597.61 L603.84 599.27 L605.88 600.28 L608.25 600.43 L610.28 601.55 L612.6 602.41 L614.56 603.98 L616.95 604.7"/>
<path d="M549.2 650.7 L551.33 651.27 L553.56 651.17 L555.69 651.79 L556.95 653.44 L557.65 655.52 L559.06 657.16 L561.56 657.01 L564.03 656.19 L566.61 656.15 L568.77 655.56 L571.02 655.73 L573.18 655.09 L575.41 655.08 L577.53 654.37 L579.77 654.64 L581.9 653.96 L584.11 653.99 L586.23 653.24 L588.49 653.65 L590.59 652.82 L592.81 652.92 L594.91 651.22 L597.4 650.24 L599.36 648.44 L601.63 647.95 L603.67 646.86 L605.92 646.37 L608.04 645.58 L610.33 645.77 L612.49 645.11 L614.33 644.06 L615.59 642.26 L617.56 641.3 L618.97 639.66 L618.9 637.5 L618.24 635.38 L618.5 633.13 L617.82 631.01"/>
<path d="M536.1 674.7 L538.23 675.3 L540.47 675.24 L542.58 675.89 L544.83 675.99 L546.95 676.82 L549.21 676.83 L551.4 676.8 L553.51 676.07 L555.75 676.24 L557.89 675.72 L558.47 678.02 L559.54 680.08 L560.03 682.33 L560.99 684.13 L561.02 686.2 L561.96 688.02 L562.21 690.03 L562.32 692.23 L561.27 694.28 L561.28 696.51 L562.19 700.04"/>
<path d="M579.7 674.7 L580.21 676.94 L581.35 678.97 L581.81 681.23 L583.66 682.44 L585.02 684.17 L587.01 685.13 L588.47 686.74 L589.86 689.29 L590.65 692.12 L589.42 693.75 L587.64 694.91 L586.34 696.54 L584.98 698.11 L584.19 700.06"/>
<path d="M592.8 700 L594.61 698.75 L595.97 697 L597.96 695.96 L599.37 694.26 L601.73 693.11 L603.6 691.23 L605.93 690.04 L608.01 689 L610.35 688.69 L612.47 687.72 L615.13 689.06 L617.92 689.95 L620.56 691.29 L623.44 692"/>
<path d="M590 478.6 L591.8 480.43 L593.94 481.86 L595.68 484.12 L597.94 485.86 L598.97 487.71 L600.69 489 L601.66 490.88 L603.17 492.35 L604.26 494.23 L605.91 495.71 L606.96 497.63 L609.08 498.44 L610.96 499.67 L614.18 498.89 L614.09 496.33 L613.54 493.71 L614.34 491.59 L614.09 489.29 L614.99 487.22 L615.08 484.95 L616.15 482.88 L616.15 480.59 L617.83 478.16 L618.74 475.37 L621.36 476.87 L624.12 477.95 L626.73 477.88 L629.29 477.19 L631.48 479.12 L633.95 480.53"/>
<path d="M688.3 468.2 L690.14 471.43 L690.29 473.46 L689.54 475.39 L690.86 477.89 L691.45 480.62 L692.71 483.17 L693.39 485.94 L694.37 488 L694.53 490.33 L695.58 492.38 L694.25 494.9 L693.58 497.63 L692.03 499.49 L690.99 501.66 L692.73 503.34 L694.84 504.75 L696.64 506.58 L698.74 508.05 L698.14 510.72 L698.21 513.41 L697.19 515.49 L696.95 517.79 L696.04 519.88 L695.34 521.88 L693.75 523.34 L692.88 525.25 L691.91 527.74 L691.59 530.42 L690.23 532.01 L689.64 534.04 L688.23 535.56 L686.72 537.19 L684.54 537.97 L683.05 539.67 L680.93 541.05 L679.13 542.84"/>
<path d="M698.7 508.1 L701.44 506.99 L703.95 505.39 L706.04 505.25 L707.93 504.31 L710.01 504.25"/>
<path d="M599.8 525.8 L600.45 527.86 L601.71 529.65 L602.31 531.74 L603.39 533.61 L603.78 535.76 L605.1 537.53 L605.65 539.62 L606.41 541.71 L606.4 543.97 L607.08 546.08 L607.83 548.81 L609.05 551.38 L607.3 552.5 L606.17 554.27 L604.36 555.26 L602.31 556.36 L599.95 556.74 L597.94 558.01 L595.14 558.62 L592.63 559.97 L589.95 561.09"/>
<path d="M651.6 564.5 L652.69 567.21 L654.25 569.67 L654.77 572.02 L656.1 574.03 L656.72 576.33 L658.3 578.01 L659.36 580.03"/>
<path d="M764.1 626.2 L764.31 628.46 L765.55 630.46 L765.48 632.79 L766.36 634.88 L765.59 637.06 L765.51 639.38 L764.39 641.43 L764.2 643.72 L763.58 645.84 L763.89 648.09 L763.05 650.2 L763.1 652.41 L761.16 653.52 L759.92 655.35 L757.94 656.3 L756.56 657.97 L754.54 659.17 L753.01 661 L750.93 662.12"/>
<path d="M751 662.2 L753.13 662.82 L755.39 662.4 L757.49 663.3 L759.71 663.23 L761.86 664.01 L764.18 664.09 L766.23 665.21 L768.52 665.4"/>
<path d="M744.5 674.2 L745.68 675.91 L747.62 676.88 L748.74 678.66 L751.1 679.5 L753.13 680.94 L755.44 681.81 L757.48 682.89 L759.84 683.04 L761.88 684.17"/>
<path d="M724.8 703.7 L726.94 704.41 L729.26 704.08 L731.39 704.88 L734 705.32 L736.42 706.42 L739.03 706.91 L741.47 707.83 L744.14 707.8 L746.58 708.77 L749.25 707.52 L752.12 707.06"/>
<path d="M700.8 710.3 L701.6 712.28 L703.3 713.71 L704.03 715.74 L703.95 717.94 L703.21 720.07 L703.09 722.32 L700.64 723.68 L698.66 725.58 L696.29 726.38 L694.25 727.79 L692.05 730.56"/>
<path d="M704.1 717.9 L706.68 717.88 L709.12 716.81 L711.71 716.88 L714.2 716.21 L716.79 716.23 L719.29 715.61 L720.99 717.03 L723.14 717.61 L724.76 719.06 L726.22 721.62 L726.94 724.53 L726.21 726.81 L724.71 728.75"/>
<path d="M719.3 715.7 L721.35 714.54 L722.75 712.55 L724.85 711.47 L726.92 710.63 L729.19 710.46 L731.25 709.44 L733.52 709.28 L735.74 709.14 L737.87 710 L740.14 709.68 L742.29 710.37"/>
<path d="M444.2 680 L445.02 682.34 L446.7 684.25 L447.41 686.65 L445.94 688.34 L443.69 689.2 L442.17 690.99 L440.85 693.03 L440.14 695.42 L438.7 697.45 L437.98 699.81 L436.26 701.66 L435.55 704.03 L434.17 705.69 L433.49 707.78 L432.13 709.46 L431.37 711.79 L429.96 713.78"/>
<path d="M447.5 686.6 L448.71 688.94 L450.71 690.74 L451.81 693.16 L453.9 693.87 L455.32 695.59 L457.36 696.3 L459.53 696.2 L461.66 695.4 L463.92 695.41 L466.24 696.51 L468.02 698.54 L470.43 699.65 L472.45 701.36 L474.92 702.38 L476.95 704.07 L479.03 702.63 L481.41 701.95 L483.47 700.64 L486.07 700.93 L488.63 700.32 L491.2 700.8 L493.18 701.34 L494.86 702.67 L496.98 703 L498.76 704.08 L501.09 704.93 L503.13 706.34 L505.45 707.2 L507.5 708.23 L509.8 708.57 L511.86 709.61"/>
<path d="M472.6 751 L474.71 751.99 L477.1 752.08 L479.17 753.2 L481.49 753.47 L483.43 754.89 L485.74 755.19 L487.87 755.83 L490.14 755.77 L492.28 756.51 L493.98 758.04 L494.87 760.3 L496.64 761.87 L498.27 763.55 L500.4 764.59 L502.05 766.27 L504.12 767.43 L505.66 769.26 L507.64 770.55 L509.66 771.9 L512.11 772.46 L514.05 773.99 L514.66 776.03 L514.49 778.29 L515.26 780.39 L513.3 782.42 L511.95 784.83 L513.25 786.38 L515.09 787.47 L516.26 789.24 L518.56 790.08 L520.46 791.69 L522.85 792.3 L524.09 794.38 L526.04 795.82 L527.13 797.95 L528.89 799.14 L529.99 800.98 L531.68 802.22"/>
<path d="M507.6 770.6 L509.94 769.39 L511.74 767.39 L514.16 766.29 L516.13 764.79 L518.65 764.37 L520.65 762.9 L520.59 760.78 L519.88 758.63 L520.26 756.35 L519.51 754.21 L520.25 752.07 L519.96 749.83 L520.7 747.71 L520.63 745.49 L522.34 744.24 L523.35 742.36 L525.04 741.13 L525.06 738.9 L525.78 736.78 L525.45 734.53 L526.2 732.41 L525.36 730.27 L525.34 727.96 L524.26 725.92 L523.99 723.68"/>
<path d="M520.7 763 L522.82 763.67 L525.09 763.4 L527.18 764.2 L529.57 764.82 L531.45 766.54 L533.85 767.2 L535.87 768.9 L538.29 770.01 L540.24 771.8 L542.03 773.72 L542.92 776.31 L544.75 778.27 L543.71 780.38 L543.44 782.7 L542.42 784.77 L540.47 786.51 L538.01 787.6 L535.94 789.25 L533.65 789.79 L531.68 791.16 L529.26 791.28 L527.22 792.46 L525 792.05 L522.8 792.46"/>
<path d="M533.8 754.2 L534.97 756.57 L536.95 758.42 L538.01 760.86 L538.92 762.9 L538.65 765.23 L539.79 767.26 L539.7 769.55 L540.38 771.68"/>
<path d="M533.8 754.2 L536.06 753.79 L538.03 752.48 L540.33 752.2"/>
<path d="M544.7 778.3 L546.95 778.05 L548.97 776.87 L551.31 776.99 L553.37 775.99 L555.66 775.88 L557.66 774.63 L559.97 774.61 L562.08 773.82 L564.26 773.14 L565.9 771.42 L568.21 770.93 L569.97 769.45"/>
<path d="M527.2 688.7 L529.26 690.08 L531.75 690.6 L533.75 692.09 L536.11 692.46 L538.03 693.97 L540.46 694.12 L542.48 695.35 L544.82 696.54 L546.62 698.55 L549.05 699.62 L547.3 700.87 L546.27 702.7 L544.64 703.94 L544.17 706.27 L542.96 708.31 L542.58 710.63 L544.61 711.49 L546.9 711.87 L548.98 712.86 L548.3 715.64 L546.8 718.16 L545.97 720.22 L544.39 721.88 L543.77 724.07 L542.42 725.85"/>
<path d="M549 699.7 L551.16 700.3 L553.44 699.85 L555.57 700.72 L557.81 700.63 L559.99 700.61 L562.11 699.88 L564.36 700.22 L566.49 699.6 L570.02 698.67"/>
<path d="M532.7 807.7 L533.46 809.71 L535.14 811.19 L535.83 813.24 L538.17 813.72 L540.25 814.82 L542.53 815.31"/>
<path d="M542.5 815.4 L542.9 817.68 L544.31 819.62 L544.62 821.93 L543.42 824.22 L541.63 826.21 L540.38 828.55 L537.98 829.36 L535.95 830.79"/>
<path d="M562.7 700 L563.61 701.91 L565.31 703.28 L566.11 705.26 L568.15 706.05 L569.48 707.81 L571.46 708.61 L571.84 710.78 L572.86 712.69 L573.09 714.83 L570.69 716.43 L567.85 717.4 L568.53 720.07 L568.72 722.71 L570.92 723.37 L572.75 724.7 L574.94 725.22 L574.47 727.31 L574.58 729.39 L574.03 731.39 L576.08 732.45 L577.54 734.18 L576.76 737.61 L573.94 738.12 L571.42 739.36"/>
<path d="M574.9 725.3 L577.27 725.34 L579.53 724.43 L581.91 724.6 L583.88 725.31 L585.25 727.05 L587.26 727.8 L587.6 730.27 L588.6 732.5 L588.79 734.93 L591.16 734.03 L593.66 734.13 L595.89 733.15 L598.59 732.56 L601.08 731.34 L603.7 732.14 L606.41 732.21"/>
<path d="M576.7 700 L578.26 701.42 L580.36 702.05 L581.84 703.59 L583.88 704.34 L585.25 706.12 L587.26 706.9 L589.44 708.02 L591.9 708.48 L594.06 709.71 L596.89 710.62 L599.35 712.3 L601.69 711.45 L604.13 711.33 L606.38 710.44 L609.1 709.87 L611.57 708.62 L614.27 708.46 L616.89 707.84 L620.33 706.16 L619.1 704.04 L618.7 701.66 L616.86 700.04"/>
<path d="M606.4 710.5 L605.79 712.49 L606.13 714.62 L605.4 716.58 L603.98 718.09 L601.84 718.65 L600.36 720.19 L600.54 722.33 L601.18 724.49 L603.58 726.15 L606.44 727.01 L606.02 729.7 L606.46 732.3 L608.95 733.02 L611.61 733.14 L614.16 734.33 L616.93 734.81 L619.42 736.39 L622.13 737.54 L623.21 739.87 L624.8 741.84 L623.52 744.45 L623.06 747.22 L621.34 749.64 L620.35 752.43 L619.16 754.9 L618.65 757.62 L620.25 759.08 L622.17 760.21"/>
<path d="M622.1 737.6 L624.51 737.3 L626.68 736.07 L629.13 735.9 L631.34 734.86 L633.85 734.99 L636.07 733.99 L638.18 733.66 L640.09 732.64 L642.23 732.41 L643.23 729.94 L644.9 727.96"/>
<path d="M642.2 732.3 L643.45 733.99 L645.37 734.99 L646.53 736.77 L648.33 738.19 L649.21 740.38 L650.99 741.83 L650.29 744.07 L650.08 746.32"/>
<path d="M679.7 705.2 L680.31 707.95 L681.6 710.47 L683.11 714.05"/>
<path d="M700 719.2 L697.62 719.77 L695.54 721.1 L693.55 722.55 L692.05 724.55 L690.14 726.09 L688.57 727.97 L686.54 729.93 L685.08 732.36"/>
<path d="M540 747.2 L542.44 748.81 L545.25 749.7 L547.94 749.16 L550.48 747.94 L553.07 748.61 L555.72 748.81 L558.43 748.31 L560.97 747.1 L562.59 748.57 L564.66 749.25 L566.16 750.76 L568.33 749.9 L570.62 749.9"/>
<path d="M574.1 761.1 L572.64 762.67 L572.06 764.83 L570.53 766.35 L571.09 768.4 L570.97 770.49 L571.49 772.49 L569.77 773.78 L568.78 775.67 L567.05 776.85 L566.99 779.56 L566.13 782.09 L564.66 783.56 L562.55 784.16 L561.04 785.66 L559.07 786.53 L557.65 788.2 L555.67 789.05 L553.19 790.23 L550.47 790.7 L547.92 791.91 L545.17 792.5 L542.49 792.01 L540.04 790.7"/>
<path d="M540 801.3 L542.49 802.53 L545.24 803 L547.3 804.21 L549.62 804.74 L550.77 806.65 L552.28 808.24 L554.77 809.41 L557.53 809.9 L559.89 809.68 L562.09 808.53 L564.52 808.37 L566.44 807.39 L568.66 807.49 L570.58 806.53 L572.53 805.48 L574.04 803.82 L576.1 804.4 L578.21 804.21 L580.18 804.9 L582.87 805.49 L585.37 806.7 L587.66 806.68 L589.78 807.51"/>
<path d="M552.2 808.3 L553.19 811.06 L554.9 813.45 L554.13 816.11 L554.07 818.81 L555.64 820.1 L557.64 820.87 L559.15 822.37 L561.16 823.18 L562.6 824.84 L564.56 825.71 L567 827.3 L569.75 828.31 L572.36 828.28 L574.89 827.42 L577.05 826.9 L578.84 825.47 L581.02 824.96 L583.52 823.34 L586.35 822.4 L588.83 821.19 L591.53 820.6"/>
<path d="M569.7 828.4 L571.21 830.13 L573.4 831.06 L574.85 832.86 L576.79 833.75 L578.35 835.2 L580.25 836.12 L582.71 837.36 L585.43 837.9 L587.97 839.09 L590.73 839.6"/>
<path d="M574.9 832.8 L573.71 834.98 L573.5 837.53 L572.22 839.67 L571.95 842.09 L571.01 844.33 L570.69 846.72 L567.85 848.43"/>
<path d="M485 820.7 L485.06 823.31 L486.07 825.79 L486 828.41 L486.85 830.88 L486.5 833.52 L487.31 835.98 L489.25 837.78 L491.55 839.24 L490.04 841.91 L489.39 844.84 L486.46 845.5 L483.92 846.95 L481.05 847.75 L478.42 849.16 L477.57 851.79 L477.39 854.62 L475.08 855.18 L473.03 856.27 L470.78 856.74 L468.82 858.71 L466.34 859.92"/>
<path d="M439.1 846.9 L441.13 848.62 L443.69 849.55 L445.64 851.39 L447.93 851.29 L449.98 852.37 L452.22 852.29 L454.79 852.2 L457.29 851.4 L459.92 851.41 L462.24 852.51 L464.02 854.54 L466.43 855.65 L466.13 857.85 L466.47 860 L468.56 860.56 L470.84 860.25 L472.98 860.99 L475.21 861.04 L477.47 860.24 L479.37 858.63 L481.75 857.99 L483.87 857.34 L486.16 857.51 L488.29 856.74 L490.27 858.65 L492.63 859.95 L494.82 859.83 L496.94 858.97 L499.21 859.06 L501.43 859.5 L503.41 860.78 L505.73 860.99 L507.97 860.62 L509.98 859.33 L512.33 859.08 L513.93 857.62 L516.01 856.98 L517.64 855.6 L517.47 852.89 L516.48 850.22 L518.97 849.43 L520.9 847.79 L523.23 846.97 L525.31 846.01 L527.59 845.69 L529.68 844.75 L531.33 843.5 L532.42 841.65 L534.13 840.43 L533.41 837.91 L533.61 835.3 L532.93 832.81 L532 830.55"/>
<path d="M445.7 851.3 L446.14 853.6 L447.49 855.59 L447.8 857.93 L447.14 860.24 L445.4 862.08 L444.7 864.45 L445.94 866.34 L447.75 867.9 L448.91 869.97 L450.68 871.5 L451.57 873.73 L453.34 875.27 L451.43 877.34 L450.05 879.74 L452.53 880.35 L455.18 880.14 L457.69 880.85 L460.03 882.28 L462.06 884.15 L461.35 886.94 L459.8 889.46 L458.98 891.79 L457.61 893.85 L455.62 895.7 L453.24 897.13 L452.94 899.94 L452.15 902.59"/>
<path d="M457.7 893.9 L459.77 895.01 L462.17 895.23 L464.1 896.7 L466.44 897.09 L468.56 897.81 L470.85 897.37 L472.98 898.19 L475.21 898.22 L477.38 898.69 L479.55 897.98 L481.72 898.68 L483.9 898.24 L486.04 898.82 L488.28 898.58 L490.39 899.34 L492.61 899.21 L494.85 898.76 L496.94 897.7 L499.22 897.26 L501.43 897.19 L503.48 898.27 L505.71 898.24 L507.85 898.98 L510.13 898.78 L512.29 899.39 L514.5 899.48 L516.61 900.19 L518.82 900.29 L520.87 902.22 L523.24 903.65"/>
<path d="M492.6 860 L492.66 862.25 L493.67 864.34 L493.6 866.62 L495.81 868.16 L497.13 870.51 L499.28 872.02 L500.5 874 L502.28 875.53 L503.41 877.57 L504.18 880.02 L503.86 882.69 L504.66 885.19 L502.95 886.83 L501.9 888.94 L500.23 890.55 L499.85 892.89 L498.68 894.95 L498.16 897.22"/>
<path d="M517.7 855.7 L518.52 858.01 L520.2 859.88 L520.91 862.25 L522.74 863.39 L523.69 865.37 L525.48 866.52 L523.8 868.33 L522.68 870.44 L520.91 872.03 L518.99 873.96 L516.53 875.21 L516.42 877.89 L515.6 880.39 L515.57 883.01 L513.67 884.98 L512.37 887.35 L510.52 889.4 L509.05 891.74 L509.62 893.69 L511 895.35 L511.16 897.54 L512.35 899.28"/>
<path d="M525.4 866.6 L527.61 866.63 L529.71 865.71 L531.97 866.12 L534.09 865.39 L536.32 865.56 L538.4 864.57 L540.65 864.84 L542.79 864.32 L544.91 865.32 L547.28 865.19 L549.31 866.41 L551.61 866.55 L554.17 866.5 L556.64 865.65 L559.21 865.59"/>
<path d="M652.3 589.1 L650.09 590.32 L648.43 592.31 L646.14 593.41 L648.16 594.27 L649.52 595.99 L651.65 596.48 L653.17 597.94 L654.59 599.48 L655.21 601.58 L656.78 603.05 L656.63 605.19 L657.49 607.14 L657.52 609.21 L658.38 611.48 L658.45 613.94 L659.39 616.18 L659.71 618.28 L660.64 620.21 L660.93 622.32 L663.78 624.82"/>
<path d="M663.7 624.9 L665.69 625.51 L667.82 625.17 L669.78 625.9 L671.73 624.86 L673.96 624.99 L675.87 623.99 L678.58 622.9 L681.06 621.33 L683.87 620.92 L686.37 619.61 L688.79 618.24 L690.66 616.16 L691.52 618.83 L690.5 621.55 L688.92 624.06 L687.28 627.64 L687.04 630.2 L687.41 632.8 L687.13 635.4 L689.54 635.95 L691.56 637.3 L694.31 637.86 L696.87 639 L699.56 639.62 L702.07 640.79 L704.73 642.35"/>
<path d="M690.7 616.2 L692.45 615.14 L693.58 613.34 L695.58 612.57 L696.83 610.91 L698.82 610.11 L700.15 608.35 L702.13 607.54 L703.68 606.11 L705.78 605.49 L707.25 603.92 L709.27 603.15 L710.73 601.51 L712.65 600.57 L714.19 598.87 L716.25 597.79 L717.74 596.03 L719.66 595.07 L721.22 593.59 L723.14 592.66 L725.58 591.39 L728.33 591 L730.87 590.25 L733.52 590.1"/>
<path d="M663.7 624.9 L662.09 626.94 L661.09 629.35 L661.1 631.96 L662.01 634.48 L663.11 636.48 L665.13 637.79 L666.26 639.83 L669.02 640.86 L671.45 642.5 L672.93 643.96 L673.52 646.08 L675.05 647.57 L675.34 649.74 L676.41 651.67 L676.72 653.82 L677.36 655.79 L677.17 657.89 L677.66 659.89 L677.98 662 L679.16 663.86 L679.3 666.03 L681.01 667.29 L682.09 669.12 L683.84 670.26 L685.76 672.29 L688.14 673.76 L690.7 674.85 L693.44 675.5 L695.93 676.65 L698.62 677.24 L701.13 678.14 L703.82 678.09 L705.35 676.12 L706.4 673.74 L706.34 671.15 L705.5 668.62 L704.48 666.29 L702.9 664.26 L702.19 661.57 L703.62 659.99 L705.67 659.09 L706.7 656.68 L708.26 654.64 L710.3 653.13 L712.63 652.05 L713.76 650.15 L715.26 648.54 L714.45 646.36 L714.35 644.09 L711.76 644.87 L709.09 644.93 L706.78 643.9 L704.75 642.31 L703.98 639.85 L703.87 637.19 L704.14 635.06 L705.32 633.16 L705.55 630.99 L703.9 627.54 L706.4 626.54 L709.13 625.9 L711.04 624.88 L713.21 624.82 L715.17 624 L717.3 623.74 L719.18 622.61 L721.31 622.35 L723.17 623.93 L724.76 625.84 L727.24 627.25 L729.16 629.35 L731.48 629.83 L733.46 631.11 L736.27 631.53 L738.78 632.87 L741.44 633.01 L743.99 633.78 L746.7 633.76 L749.29 634.56"/>
<path d="M714.3 644.1 L716.37 644.14 L718.32 643.23 L720.41 643.4 L722.52 643.18 L724.49 644.17 L726.61 643.99 L727.75 646.82 L729.27 649.36 L731.08 650.62 L733.39 650.84 L735.26 652.1 L737.93 652.27 L740.49 652.98 L742.33 653.74"/>
<path d="M702.1 661.6 L703.66 663.02 L705.76 663.65 L707.24 665.19 L710.01 665.17 L712.58 666.1 L715.13 665.17 L717.81 665.15 L719.32 666.69 L720.31 668.67 L722.4 666.6 L724.87 665.19 L727.34 664.07 L730.03 663.48 L732.06 661.48 L734.45 659.97 L736.31 658.73 L738.53 658.25 L740.47 657.14 L742.36 653.83 L743.78 655.32 L744.35 657.46 L745.85 658.97"/>
<path d="M619.1 648.5 L619.93 649.47 L622.41 649.64 L624.58 650.87 L627.03 650.99 L629.11 651.88 L631.43 651.63 L633.49 652.61 L635.72 652.82 L637.79 653.92 L640.19 653.9 L642.19 655.21 L644.52 655.45 L647.92 654.68 L649.06 651.9 L650.68 649.44 L650.88 647 L651.89 644.77 L652.24 642.38 L653.12 640.12 L653.13 637.64 L654.2 635.43 L655.69 633.08 L657.68 631.07 L660.97 629.25"/>
<path d="M620 671.2 L622.44 670.62 L624.55 669.15 L627.04 668.7 L629.16 667.09 L631.82 666.57 L633.95 665 L636.21 664.41 L638.27 663.32 L640.59 662.25 L642.25 660.21 L644.57 659.09 L646.07 657.12 L647.96 655.56"/>
<path d="M638.3 663.4 L640.31 665.39 L642.76 666.82 L644.19 668.88 L646.44 670.09 L647.83 672.17 L648.72 674.22 L648.75 676.51 L650.74 678.06 L652.22 680.08 L654.33 679.68 L656.37 680.38 L658.4 679.94 L660.4 680.54 L662.5 680.32 L664.49 680.89 L666.71 681.71 L668.55 683.28 L670.73 684.24 L673.3 684.53 L675.9 684.19 L678.31 682.82 L680.26 680.75 L681.76 679.26 L682.47 677.23 L683.88 675.65 L685.88 674.52 L688.12 673.84"/>
<path d="M675.9 684.3 L674.67 686.84 L674.2 689.63 L675.2 692.33 L676.86 694.77 L677.96 697.47 L679.49 699.96 L678.68 702.15 L678.6 704.42 L679.17 706.69 L680.4 708.76 L678.75 711.3 L677.69 714.05 L674.93 716.53"/>
<path d="M679.4 700 L681.94 700.8 L684.62 700.79 L687.3 700.72 L689.89 699.93 L691.74 698.69 L693.16 696.89 L695.15 695.76 L697.13 694.11 L699.54 693.16 L700.49 690.3 L702.16 687.83 L703.6 685.8 L705.67 684.37 L706.2 681.62 L707.38 679.13 L706.58 676.5 L706.56 673.79"/>
<path d="M635.7 700 L638.29 700.8 L641.02 700.79 L642.98 702.86 L645.34 704.35 L647.9 705.45 L650.63 706.11 L652.56 707.03 L654.76 707 L656.68 707.97 L659.19 706.72 L661.92 706.26 L664.39 704.54 L667.25 703.59 L669.76 702.84 L672.41 702.79 L674.34 701.79 L676.53 701.7 L678.48 700.82"/>
<path d="M720 390.5 L720.58 392.94 L722.05 395.05 L722.5 397.54 L722.68 399.88 L721.67 402.12 L721.81 404.51 L722.73 406.33 L724.26 407.81 L725.1 409.76 L727.9 409.84 L730.48 410.71 L733.18 411.73 L735.66 413.27 L737.62 415.26 L739.13 417.65 L741.18 419.56 L742.66 421.93 L743.8 424.02 L744.44 426.33"/>
<path d="M720 458.6 L722.5 459.74 L725.23 460.2 L726.72 462.31 L729.01 463.56 L730.43 465.67 L733.22 466.09 L735.68 467.35 L738 467.95 L740.06 469.21 L741 467.16 L742.75 465.77 L743.55 463.77 L745.71 463.5 L747.61 462.46 L749.72 462.18 L752.43 463.13 L754.88 464.74 L757.02 465.37 L758.88 466.64 L761.04 467.2 L762.9 468.77 L765.23 469.46 L767.15 470.89 L769.06 472.12 L770.47 473.97 L772.44 475.16 L775.88 476.94 L776.68 474.77 L778.28 473.1 L779.02 470.95 L780.4 469.16"/>
<path d="M740.1 469.1 L741.33 471.03 L743.29 472.35 L744.42 474.37 L746.51 475.8 L747.73 478.07 L749.78 479.52 L751.34 480.91 L753.32 481.71 L754.84 483.2 L756.53 485.55 L757.5 488.35 L756.59 490.14 L755.04 491.61 L754.15 493.54 L751.95 493.82 L750.05 494.99 L747.89 495.25 L745.55 494.91 L743.36 493.88 L740.97 493.61 L738.84 493.77 L736.92 494.89 L734.77 495.2 L731.37 493.55 L730.21 495.72 L729.78 498.24 L728.66 500.48 L727.21 502.51 L725.16 503.96 L722.67 505.1 L719.96 505.69"/>
<path d="M799.5 504 L797.31 504.9 L795.6 506.63 L793.35 507.41 L791.12 508.18 L788.69 507.77 L786.41 508.51 L784.03 508.8 L781.8 509.8 L779.37 509.99 L777.84 511.81 L775.63 512.74 L774.14 514.54 L771.38 515.56 L768.93 517.16 L766.17 518.14 L763.74 519.78"/>
<path d="M802.1 484.8 L804.8 484.24 L807.27 483 L808.76 481.53 L809.31 479.35 L810.88 477.86 L811.59 474.27"/>
</g>
<g fill="none" stroke="#000" stroke-width="1.45" stroke-linejoin="round" stroke-linecap="round">
<path d="M149.3 269.9 L149.6 267.2 L149.22 264.5 L148.52 262.17 L147.14 260.13 L145.09 256.74 L145.29 253.49 L143.76 251.66 L141.66 250.35 L140.24 248.64 L138.35 247.45 L135.64 244.75 L135.6 229.5 L137.54 228.62 L139.76 228.89 L141.69 227.95 L143.99 227.81 L146.08 226.81 L148.2 227.6 L150.41 227.73 L152.6 228.12 L154.8 227.72 L155.12 224.85 L154.7 221.9 L153.29 220.11 L151.43 218.67 L139.5 218.2 L139.5 205.1 L141.77 205.12 L143.84 203.98 L146.12 204.09 L173.4 204.4 L173.78 202.16 L174.55 200.01 L177.68 198.94 L179.8 202.27 L183.16 199.94 L186.54 197.96 L187.81 195.76 L189.75 194.15 L192.98 193.41 L193.11 195.71 L193.91 197.8 L194.01 200.02 L196.52 201.36 L198.46 203.35 L199.1 216 L201.5 215.79 L203.9 216.08 L214.8 225.2 L216.99 224.86 L219.22 225.15 L221.39 224.59 L223.26 223.54 L224.64 221.83 L226.94 221.7 L228.99 220.74 L231.64 223.07 L231.27 226.91 L234.52 226.29 L235.43 223.96 L236.79 221.95 L238.74 220.1 L241.04 218.65 L242.99 216.67 L245.47 215.39 L247.62 214.3 L250.02 213.87"/>
<path d="M149.3 269.9 L138 327.8 L137.38 329.91 L137.39 332.11 L134.06 333.09 L130.77 332.18 L129.32 330.58 L127.44 329.57 L125.3 329.3 L123.1 329.58 L120.89 329.65 L118.82 330.5 L117.03 331.66 L115.55 333.25 L113.3 333.39 L111.23 334.28 L108.98 334.2 L106.82 334.7 L104.56 334.37 L102.41 335.12 L99.57 335.44 L96.92 336.59 L95.18 337.65 L93.73 339.14"/>
<path d="M93.5 339.2 L91.17 339.96 L89.21 341.5 L86.86 342.22 L84.85 343.91 L82.37 344.87 L80.46 346.69 L78 348.1 L76.04 350.15 L75.35 352.01 L75.5 354.08 L74.84 355.99 L74.21 358.89 L72.69 361.46 L71.85 363.39 L70.29 364.91 L69.58 366.95 L68.46 369.58 L67.97 372.42 L68.39 375.24 L69.58 377.88 L68.11 379.9 L67.39 382.24 L64.48 383.12 L61.84 384.5 L59.41 385.74 L57.57 387.79 L56.31 390.3 L55.75 393.12 L56.35 396.41 L54.27 397.48 L51.96 398.09 L52.23 400.6 L51.93 403 L53.91 404.33 L55.25 406.25 L57.57 409.45 L58.36 411.82 L59.75 413.88 L61.06 416.28 L62.99 418.24 L64.19 420.56 L65.85 422.56 L66.88 424.93 L68.44 426.97 L69.67 428.66 L71.59 429.68 L72.73 431.47 L73.88 434.57 L71.9 436.59 L70.65 439.03 L68.73 441.14 L71.16 441.05 L73.49 441.7 L75.86 441.31 L78.2 441.7 L80.42 441.65 L82.58 442.27 L84.81 442.19 L86.72 444.21 L89.15 445.44 L89.4 448.3 L90.26 450.99 L90.63 453.61 L109.9 453.6 L111.87 451.85 L114.23 450.65 L116.3 448.99 L118.64 447.77 L120.42 445.95 L122.56 444.57 L124.62 442.22 L124.06 444.4 L124.18 446.61 L122.93 448.77 L123 473.9 L126.24 476.03 L128.95 476.26 L131.7 476 L134.51 475.58 L137.18 474.53 L139.75 474.55 L142.24 473.87 L144.81 473.99 L147 473.82 L149.12 474.62 L151.35 474.1 L153.49 474.67 L156.27 474.51 L158.99 475.11 L161.23 474.97 L163.39 475.59 L164.94 477.57 L167.48 477.12 L169.88 476.02 L172.21 475.23 L174.26 473.83 L176.19 471.93 L177.53 469.55 L179.85 469.06 L181.88 467.94 L184.24 466.82 L186.24 465.1 L188.22 464.5 L189.82 463.18 L191.72 462.44 L193.41 461.24 L195.44 460.75 L197.18 459.65 L199.51 458.25 L201.55 456.43 L203.49 455.13 L204.74 453.14 L207.75 451.06"/>
<path d="M55.7 393.1 L80.4 401.9 L135 408.4 L165.5 433.5 L190.7 445.5 L207.7 451"/>
<path d="M207.7 451 L204.85 448.73 L206.84 446.94 L209.25 445.57 L210.7 443.75 L212.57 442.38 L214.63 441.67 L216.89 442.06 L219 441.28 L221.21 441.28 L223.54 442.66 L225.56 444.55 L227.71 443.57 L230.03 443.52 L231.48 441.63 L233.28 440.18 L236.47 438.91 L239.98 440.17"/>
<path d="M207.7 451 L210.08 450.93 L212.33 450.01 L214.71 449.99 L217.2 449.33 L219.82 449.52 L222.28 448.69 L224.87 449.12 L227.43 448.6 L230 448.89 L232.45 449.12 L234.79 449.96 L235.39 452.06 L234.8 454.34 L235.45 456.5 L234.54 458.96 L234.7 461.63 L233.83 464.09 L234.4 466.25 L234.13 468.49 L234.99 470.59 L234.9 472.81 L235.42 474.99 L235.01 477.21 L235.64 479.38 L235.28 481.61 L236.23 483.7 L236 486.01 L236.92 488.09 L237.15 490.31 L240.02 491.35"/>
<path d="M250 212.1 L252.32 211.24 L254.36 209.82 L256.55 211.1 L258.63 207.66 L262.05 205.57 L262.46 203.01 L263.56 200.72 L265.39 199.59 L267.54 199.09 L269.51 197.78 L271.82 197.25 L273.74 196.12 L275.94 195.63 L277.86 194.5"/>
<path d="M277.9 191.3 L277.81 194.6 L280.41 194.89 L282.78 195.79 L285.05 196.61 L287.05 197.99 L290.46 199.91 L289.88 202.17 L290.06 204.41 L290.61 206.36 L291.95 207.96 L292.54 209.93 L294.06 212.45 L294.69 215.35 L295.53 217.46 L295.58 219.79 L296.59 221.88 L295.95 224.57 L295.97 227.31 L295.91 229.55 L296.83 231.66 L296.8 233.91 L298.01 236.51 L298.44 239.32 L299.91 241.35 L300.59 243.75 L301.73 246.36 L301.91 249.22 L301.18 251.08 L299.92 252.72 L299.15 254.63 L297.24 255.76 L295.95 257.55 L297.95 259.75 L299.88 260.7 L301.26 262.36 L303.15 263.69 L304.54 265.56 L306.37 267.03 L307.84 268.86 L309.76 270.2 L311.06 272.14 L314.4 272.04 L317.15 274.36 L316.55 271.01 L316.32 268.73 L315.4 266.63 L316.17 263.94 L316.11 261.19 L317.49 259.14 L318.05 256.78 L320.29 255.38 L322.05 253.44 L324.33 253.24 L326.39 252.35 L328.39 254.33 L330.83 255.66 L332.3 257.83 L334.18 259.63 L336.4 259.16 L338.37 257.83 L339.73 255.82 L340.54 253.47 L341.37 250.85 L341.61 248.08 L342.98 245.99 L343.85 243.67 L345.24 241.62 L346.05 239.27 L347.47 237.61 L348.21 235.55 L371.8 235.6"/>
<path d="M354.8 202.2 L356.24 204.06 L358.16 205.44 L359.32 207.18 L361.12 208.29 L362.32 209.97 L364.78 210.89 L366.75 212.58 L369.35 212.96 L371.78 213.88 L372.37 215.28 L371.8 235.6 L371.58 237.93 L372.19 240.27 L371.68 242.6 L372.76 245.3 L373.29 248.13 L374.73 250.69 L375.43 253.53 L377.33 255.56 L378.72 257.96 L380.46 259.18 L381.5 261.06 L383.27 262.23 L384.72 264.04 L386.57 265.43 L388.65 265.9 L390.8 265.38 L391.05 267.77 L391.95 269.89 L394 271.68 L396.33 273.15 L398.27 275.16 L400.74 276.44 L403.33 277.49 L406.13 277.89 L407.8 279.49 L409.94 280.36 L411.55 281.96 L413.49 282.85 L415.04 284.36 L417.06 285.11 L419.15 288.53 L421.38 288.04 L423.61 288.08 L425.69 286.99 L427.93 286.38 L431.14 284.01 L430.06 285.92 L429.58 288.03 L426.92 289.03 L424.73 290.75"/>
<path d="M372.3 215.3 L374.52 215.01 L376.58 214.11 L379.02 212.91 L380.95 210.93 L384.35 208.87 L386.91 207.71 L389.72 207.26 L391.8 206.09 L394.13 205.59 L396.19 204.43 L398.56 204.21 L400.68 203.23 L402.96 201.79 L404.94 199.92 L407.25 199.99 L409.37 199.17 L411.62 199.12 L413.79 198.74 L415.91 199.58 L418.11 199.31 L420.28 199.8 L422.51 199.64 L424.69 200.09 L427.23 199.83 L429.77 200.21 L432.3 199.93 L434.54 197.23 L432.88 195.51 L431.76 193.45 L432.21 191.17 L433.48 189.13 L435.55 188.42 L437.85 188.64 L439.98 187.91 L442.03 188.05 L443.98 187.33 L446.04 187.74 L447.96 186.72 L450.01 187.01"/>
<path d="M277.5 194.5 L277.58 190.7 L275.4 190.71 L273.41 190.01 L270.93 190.04 L268.5 189.55 L265.97 189.04 L263.62 187.94 L264.3 186.25 L264.32 184.19 L263.51 182.22 L262.61 179.62 L261.01 177.34 L259.85 173.98 L260.04 171.5 L260.86 169.11 L259.79 167.16 L259.55 164.98 L257.6 163.66 L256.24 161.76 L253.98 160.83 L252.14 159.24 L250.25 157.41 L248.88 155.13 L247.47 153.65 L246.44 151.87 L246.29 150.8 L248.79 151.18 L251.34 154.07 L253.79 154.24 L256.19 153.48 L258.23 154.04 L260.31 154.02 L261.81 156.03 L263.65 157.65 L266.77 159.09 L270.08 157.64 L273.36 159.39 L276.67 157.26 L279.89 158.06 L281.45 159.7 L282.34 161.84 L284.21 162.95 L285.64 164.57 L287.65 163.44 L289.83 162.97 L289.8 160.85 L290.47 158.86 L290.18 156.79 L293.95 155.31 L296.24 153.03 L298.32 153.59 L300.41 153.53 L302.39 154.32 L304.52 154.31 L306.65 153.31 L308.57 151.84 L310.71 151.59 L312.68 150.72 L316.04 149.6 L318.34 146.94 L320.15 145.93 L321.64 144.51 L323.7 145.26 L325.82 145.32 L328.25 142.94 L329.7 141.49 L331.54 140.56 L332.94 138.97 L334.83 138.04 L336.32 134.66 L335.11 132.77 L333.42 131.16 L335.8 131.27 L338.1 131.03 L340.59 130.89 L342.98 130.11 L346.6 130.25 L348.77 133.05 L348.24 135.53 L348.27 138.01 L347.14 139.95 L346.71 142.14 L345.33 144.56 L347.59 145.04 L349.48 146.26 L351.62 146.23 L353.59 147.07 L356.44 149.45 L355.91 151.53 L356.21 153.61 L357.42 155.74 L359.05 157.66 L357.64 159.59 L356.96 161.83 L355.1 163.24 L353.63 165.03 L351.95 168.28 L352.31 170.75 L351.88 173.2 L351.57 175.4 L350.32 177.27 L350.11 179.78 L349.43 182.19 L350.29 184.59 L350.29 187.12 L351.49 189.04 L351.94 191.22 L353.43 192.68 L354.33 194.55 L354.91 197.28 L354.73 200.1 L355.21 201.88"/>
<path d="M450 186.9 L452.22 187.03 L454.38 186.34 L456.61 186.61 L458.37 189.76 L460.84 192.46 L463.71 192.65 L466.39 193.56 L469.13 193.52 L471.79 194.19 L474.45 192.92 L477.32 192.45 L479.44 191.62 L481.71 191.35 L483.99 191.87 L485.96 193.19 L488.17 192.58 L490.42 192.52 L493.75 194 L496.4 194.42 L499.1 194.01 L501.41 192.87 L503.47 191.26 L505.57 189.28 L507.16 186.87 L508.13 184.8 L508.46 182.5 L509.45 180.42 L510.13 178.38 L511.59 176.72 L512 174.53 L513.38 172.84 L514.51 170.43 L516.47 168.56 L517.62 166.15 L519.39 164.18 L520.45 161.74 L522.2 159.77 L522.82 157.67 L524.55 156.22 L525.21 154.15 L525.9 151.7 L525.82 149.1 L526.47 146.61 L529.69 146.05 L531.68 148.21 L534.15 149.74 L534.85 151.82 L536.45 153.34 L537.2 155.36 L538.02 157.41 L537.88 159.66 L538.46 161.79 L538.2 164.03 L539.02 166.18 L538.53 168.43 L539.18 170.59 L539.58 172.83 L540.7 174.86 L540.72 177.22 L541.76 179.28 L542.36 181.54 L543.57 183.56 L543.81 185.96 L545.1 187.96 L545.65 190 L546.85 191.76 L547.31 193.85 L548.35 195.68 L549.06 197.68 L550.61 199.2 L551.42 201.14 L554.35 201.95 L556.98 203.36 L559.35 204.1 L561.37 205.55 L562.73 207.56 L563.45 209.92 L563.76 212.6 L563.44 215.3 L562.66 218.13 L561.29 220.76 L560.03 223.21 L558.04 225.16 L557.1 227.35"/>
<path d="M550 195.7 L551.53 195.07 L552.87 196.58 L553.62 198.55 L552.65 201.12 L550.43 199.36 L549.93 195.71"/>
<path d="M458.3 189.8 L458.31 192.17 L459.16 194.43 L459.11 196.81 L459.71 199.48 L459.69 202.21 L462.68 202.97 L465.26 204.49 L467.2 205.33 L468.75 206.84 L470.74 207.64 L473.37 209 L476.24 209.79 L478.27 211.01 L480.65 211.2 L482.77 212.2 L484.76 212.9 L486.27 214.45 L488.23 215.24 L489 218.17 L490.48 220.77 L491.62 222.81 L493.58 224.2 L494.76 226.24 L495.51 228.34 L495.14 230.67 L496.02 232.78 L496.69 235.1 L498.19 237.06 L499.06 239.32 L500.36 241.03 L500.97 243.17 L502.46 244.76 L503.29 246.76 L504.92 248.27 L505.64 250.34 L506.73 252.92 L507.12 255.72 L508.75 257.81 L509.92 260.15 L511.42 262.14 L512.15 264.53 L515.01 265.15 L517.68 266.27 L519.85 265.39 L522.12 264.98 L523.43 262.82 L525.37 261.26 L526.14 258.87 L527.6 256.85 L528.99 254.48 L530.87 252.45 L531.69 250.47 L533.26 248.96 L534.05 246.97 L535.78 245.78 L536.84 243.94 L538.44 242.64 L540.44 241.18 L542.97 240.75 L544.96 239.23 L547.3 237.91 L549.26 236.05 L550.6 234 L551.42 231.66 L553.29 230.19 L554.76 228.36 L557.04 227.37"/>
<path d="M696.9 291.3 L700.18 292.45 L702.93 291.87 L705.71 292.09 L708.54 292.69 L711.08 294.16 L713.39 294.93 L715.36 296.47 L717.74 297.11 L720.18 298.03 L722.84 298.08 L725.28 299.07 L727.52 298.79 L729.69 299.45 L731.9 299.34 L733.88 300.84 L736.23 301.53 L738.88 302.66 L741.73 303.2 L744.45 303.61 L747.2 303.24 L749.78 303.22 L752.22 302.25 L754.81 302.26 L756.94 301.61 L759.17 301.84 L761.29 301.14 L763.51 301.15 L766.08 301.06 L768.61 301.83 L771.2 301.52 L773.21 302.9 L775.64 303.22 L777.66 304.48 L779.81 305.18 L781.39 306.88 L783.57 307.54 L785.36 308.88 L787.45 309.6 L789.1 311.13 L791.19 311.87 L792.95 313.2 L795.09 314.24 L796.73 316.02 L798.93 317.01 L800.66 318.65 L802.55 319.71 L803.77 321.56 L805.69 322.58 L807.13 324.18 L809.16 325.77 L810.71 327.86 L812.74 329.46 L814.11 331.13 L816.07 332.11 L817.39 333.84 L819.24 334.96"/>
<path d="M736.2 301.6 L734.91 303.42 L734.18 305.54 L732.14 307.47 L730.87 309.95 L728.43 311.27 L726.45 313.17 L723.62 314.01 L721.03 315.38 L719.1 317.31 L717.78 319.76 L716.44 321.44 L715.7 323.49 L714.35 325.17 L713.63 328.03 L712.11 330.56 L711.81 332.84 L710.98 334.97 L712.03 337.62 L712.11 340.42 L713.03 342.53 L713.07 344.85 L713.85 346.99 L713.35 349.14 L713.64 351.35 L713.24 353.5 L712.39 355.45 L710.96 357.08 L710.07 359.04 L709.4 361.13 L709.69 363.39 L708.92 365.49 L709.81 368.19 L709.92 371.02 L711.4 373.63 L712.12 376.53 L712.97 378.59 L713.18 380.83 L711.39 382.77 L708.93 384.01 L706.31 384.97 L703.49 385.13 L700.75 385.42 L698 385.13 L695.28 385.03 L692.61 384.4 L690.89 385.69 L688.76 386.11 L687.14 387.47 L685.06 388.53 L683.73 390.55 L681.67 391.66 L680 393.33 L677.8 394.34 L676.25 396.16 L674.16 396.86 L672.66 398.52 L670.67 399.35 L668.92 400.51 L666.76 400.73 L665.09 402.08 L663.08 402.65 L661.04 404.49 L658.63 405.81 L657.97 408.77 L656.55 411.38 L655.7 414.23 L654.35 416.88 L653.45 418.79 L651.9 420.32 L651.15 422.33 L649.92 425.57"/>
<path d="M746.1 303.3 L745.29 305.43 L745.09 307.72 L744.27 310.35 L744.38 313.11 L744.93 315.94 L746.19 318.57 L746.45 321.39 L747.28 324.08 L747.96 326.91 L749.4 329.46 L748.79 331.67 L748.86 333.93 L748.25 336.09 L748.98 338.21 L748.64 340.48 L749.35 342.59 L750.06 344.64 L751.84 346.07 L752.52 348.15 L753.79 350.7 L754.34 353.52 L754.7 355.69 L754.38 357.92 L754.85 360.1 L754.96 362.3 L755.75 364.4 L755.85 366.61 L756.53 368.76 L756.37 371.04 L757.11 373.18 L757.09 375.41 L758.04 377.48 L758.02 379.71"/>
<path d="M748.3 426.7 L746.33 427.57 L744.8 429.17 L742.75 429.92 L741.09 431.59 L739.03 432.74 L737.35 434.36 L735.03 435.2 L733.13 436.82 L730.76 437.51"/>
<path d="M819.2 335 L821.04 336.58 L823.32 337.54 L825.04 339.28 L827.31 340.05 L829.06 341.71 L831.23 342.64 L832.95 345.93 L835 346.19 L836.82 347.23 L838.9 347.21 L840.78 347.98 L843.02 347.91 L845.18 348.58 L847.43 348.31 L849.59 348.91 L851.76 348.37 L853.96 348.71 L856.11 348.2 L858.3 348.36 L860.69 348.27 L862.92 349.32 L865.31 349.2 L866.85 350.61 L868.94 351.01 L870.44 352.4 L872.1 354.32 L873.04 356.73 L874.34 358.9 L874.64 361.47 L875.9 363.66 L876.17 365.96 L877.35 367.97 L877.51 370.3 L878.48 372.38 L878.74 374.79 L879.72 377.02 L880 379.43 L881.33 381.61 L881.53 384.21 L882.89 386.36 L882.95 388.79 L884 391 L884.04 393.41 L884.56 395.68 L884.1 398.02 L884.56 400.3 L883.99 402.61 L884.18 405 L883.53 407.29 L883.47 409.68 L882.5 411.92 L882.48 414.31 L881.64 416.22 L881.52 418.33 L880.47 420.16 L880.16 422.22 L879.04 424.46 L878.6 426.95 L877.45 429.18 L876.48 431.94 L874.8 434.35 L873.64 436.58 L871.7 438.27 L870.59 440.57 L869.07 441.91 L868.05 443.68 L866.33 444.85 L865.38 446.67 L863.74 447.95 L862.8 449.83 L861.13 451.08 L860.08 452.87 L858.42 454.08 L857.67 456.08 L855.94 457.24 L854.88 458.97 L852.89 460.46 L851.57 462.6 L849.56 464.06 L848.05 465.59 L845.9 466.18 L844.36 467.68 L842.02 469.19 L840.06 471.17 L838.02 473.11 L836.57 475.56 L834.94 477.62 L833.89 480.05"/>
<path d="M831.2 343.6 L828.8 343.91 L826.6 345.02 L824.17 345.19 L823.14 348.07 L821.52 350.56 L820.57 353.33 L818.95 355.77 L818.08 357.97 L816.4 359.71 L815.59 361.95 L814.18 363.57 L813.36 365.56 L811.95 367.17 L810.49 368.91 L808.33 369.82 L806.83 371.54 L805.11 373.49 L804.2 375.96 L803.39 378.45 L803.39 381.11 L802.65 383.72 L802.45 386.41 L801.28 388.44 L800.75 390.72 L801.82 393 L803.36 395.07 L804.05 398.61 L802.47 402.14 L801.42 405.18"/>
<path d="M804.1 375.9 L806.76 377.67 L808.92 377.92 L810.76 379.17 L812.92 379.32 L814.79 378.47 L816.2 376.82 L818.13 375.95 L820.63 374.35 L823.44 373.38 L825.33 372.36 L827.52 372.28 L829.48 371.43 L831.72 370.82 L833.76 369.7 L832.9 373.28 L831.37 375.17 L829.42 376.72 L828.96 379.1 L827.61 381.06 L830.37 383.74 L833.77 385.55 L836.42 384.89 L839.11 384.68 L842.62 386.35 L844.25 389.03 L846.85 386.35 L847.51 383.78 L847.72 381.09 L848.95 379.05 L849.5 376.76 L853.11 376.28 L856.63 377.51 L858.86 378.18 L861.24 377.88 L863.49 378.58 L865.72 378.5 L867.86 379.35 L870.14 378.78 L872.29 379.51 L874.91 379.17 L877.49 379.84 L880.1 379.64"/>
<path d="M801.5 405.2 L803.68 405.67 L805.91 405.51 L807.98 406.66 L810.32 406.92 L812.48 407.03 L814.59 406.41 L816.91 405.32 L818.96 403.73 L821.36 402.77 L823.35 401.11 L825.64 400.06 L827.66 398.54 L829.97 397.92 L832.06 396.8 L834.18 398.05 L836.52 398.55 L835.49 402.07 L833.9 405.65 L832.23 407.64 L831.28 410.05 L833.76 412.64 L835.29 414.66 L836.43 416.95 L838.6 416.13 L840.82 415.76 L842.87 413.97 L845.23 412.64 L847.74 409.94 L850.57 408.89 L853.05 407.2 L855.74 407.18 L858.29 406.41 L860.99 405.86 L863.47 404.61 L865.84 403.63 L867.87 402.04 L870.3 401.14 L872.24 399.4 L874.96 399.41 L877.48 398.5 L880.06 399.87 L882.82 400.64 L884.46 402.15"/>
<path d="M757 379.4 L758.27 381.06 L760.16 382.11 L761.33 383.87 L763.49 384.73 L765.38 386.04 L764.94 388.86 L763.93 391.58 L763.44 394.36 L762.11 396.87 L760.66 398.82 L758.64 400.24 L759.9 402.85 L760.44 405.62 L761.6 408.12 L762.14 410.82 L761.22 413.19 L759.56 415.17 L758.39 416.92 L756.54 418.01 L755.27 419.67 L752.49 420.68 L750.03 422.27 L748.82 424.06 L748.35 426.22"/>
<path d="M801.5 405.2 L799.38 405.64 L797.54 406.9 L795.37 407.21 L793.13 406.63 L791.02 405.55 L788.72 404.51 L786.74 402.94 L784.28 401.53 L782.36 399.42 L779.6 398.89 L777.13 397.62 L774.4 397.62 L771.81 396.84 L769.77 397.17 L767.73 396.7 L765.7 397.01 L763.49 397.59 L761.44 398.7 L758.67 400.25"/>
<path d="M748.3 426.2 L751.68 426.99 L753.59 427.83 L755.15 429.27 L756 431.17 L756.06 433.37 L757.1 435.27 L757.26 437.58 L758.33 439.65 L758.62 441.92 L760.83 440.97 L763.12 440.56 L765.06 438.45 L767.57 437.09 L768.66 435.15 L770.19 433.57 L772.19 432.37 L774.53 431.87 L775.6 429.48 L777.18 427.45 L779.58 425.86 L782.34 424.89 L784.87 423.79 L787.61 423.46 L789.49 424.26 L790.93 425.8 L793.82 426.65 L796.26 428.38 L798.95 428.99 L801.48 430.05 L803.69 429.66 L805.91 429.82 L807.66 432.67 L809.16 435.01 L811.19 436.93 L812.84 440.53 L814.11 438.58 L815.97 437.2 L817.16 435.27 L819.19 433.29 L820.61 430.83 L822.86 431.54 L825.11 431.74 L827.17 433.32 L829.53 434.36 L831.98 435.95 L834.75 436.9 L836.73 438.62 L839.15 439.63 L841.76 439.61 L844.29 438.74 L847.08 437.77 L849.57 436.13 L852.34 435.12 L854.77 433.45 L857.55 432.51 L859.98 430.85 L862.69 430.49 L865.28 429.6 L867.62 430.19 L869.98 429.64 L872.3 430.08 L874.45 429.78 L876.6 430.07"/>
<path d="M812.9 440.5 L815.44 443.16 L817.85 444.2 L819.84 445.9 L822.62 446.86 L825.06 448.48 L827.83 449.43 L830.27 451.05 L832.22 451.93 L833.66 453.59 L835.66 454.41 L837.23 455.82 L839.2 456.64 L840.77 458.05 L843.22 459.47 L845.14 461.58 L847.49 462.65 L849.54 464.2"/>
<path d="M815.5 443.1 L815.53 445.21 L816.39 447.19 L816.29 449.32 L817.92 450.89 L818.93 452.85 L820.14 455.31 L820.64 458.02 L820.58 460.64 L819.81 463.19 L820.64 465.34 L820.65 467.61 L817.23 469.36 L814.58 469.42 L812.01 470.01 L812.8 473.72 L814.35 475.81 L815.4 478.16 L817.29 479.92"/>
<path d="M385.2 379 L383.34 380.99 L381.97 383.35 L382.08 386.12 L383.08 388.78 L384.45 390.65 L386.36 392.04 L387.21 394.88 L388.58 397.47"/>
<path d="M388.5 397.5 L387.51 399.62 L387.31 401.99 L386.19 404.06 L385.24 406.92 L383.62 409.46 L384.13 411.68 L383.76 413.91 L384.18 416.09 L383.43 418.21 L383.71 420.49 L382.95 422.59 L383.43 425.33 L383.35 428.1 L316.4 428.1"/>
<path d="M388.5 397.5 L389.33 399.47 L390.89 401.02 L391.6 403.06 L393.04 405.04 L393.65 407.46 L395.08 409.46 L395.92 411.79 L397.45 413.77 L398.22 416.14 L399.01 418.58 L398.85 421.19 L399.47 423.69 L400.9 426.01 L402.79 428.04 L404.33 429.48 L406.39 430.15 L408.04 431.5 L409.84 432.55 L410.81 434.49 L412.56 435.63 L413.97 437.19 L415.8 438.24 L417.24 439.77 L419.41 439.69 L421.48 440.23 L423.62 439.96 L425.69 440.51 L427.81 440.42 L440 441.8"/>
<path d="M240 441.2 L241.34 439.12 L242.12 436.76 L243.63 435.15 L244.33 433.06 L246.6 433.15 L248.7 432.33 L250.91 432.46 L253.07 431.92 L255.33 432.31 L257.49 431.7 L259.71 431.22 L261.78 430.23 L262.53 427.59 L262.8 424.78 L264.28 423.13 L264.95 421.05 L266.3 419.36 L267.54 416.91 L269.58 415.06 L270.64 412.63 L272.35 410.63 L288 410.6 L290.31 412.32 L292.34 414.37 L293.65 416.22 L294.55 418.33 L296.93 419.72 L298.97 421.54 L300.82 423.54 L302.14 425.95 L305.56 428.01 L307.77 427.83 L309.88 426.91 L313.13 425.98 L316.45 428.02"/>
<path d="M316.4 428.1 L315.93 430.78 L316.09 433.51 L314.74 436.13 L314.28 439.03 L314.67 441.26 L315.95 443.24 L316.34 445.52 L316.31 448.11 L315.36 450.59 L315.4 453.21 L315.49 455.4 L316.26 457.49 L316.35 459.71 L316.88 461.88 L316.32 464.12 L316.94 466.29 L316.78 468.51 L317.12 470.57 L316.25 472.54 L316.49 474.61 L318.58 474.8 L320.76 474.44 L322.94 474.89 L325.12 474.43 L327.3 474.66 L339.3 475 L342.63 476.74 L344.61 477.23 L346.7 477.06 L348.69 477.68 L349.85 480.04 L350.22 482.73 L349.47 484.66 L347.86 486.15 L347.08 488.15 L347.1 490.34 L347.96 492.46 L347.98 494.72 L349.54 496.29 L349.99 498.49 L351.48 500.05 L352.24 502.4 L353.56 504.47 L352.24 506.22 L351.52 508.26 L350.21 509.95 L349.44 512.8 L348 515.36 L346.66 517.85 L344.7 519.93"/>
<path d="M240 490.3 L241.41 492.68 L243.36 494.65 L244.91 496.37 L247.03 497.4 L248.63 499.08 L250.42 500.21 L251.41 502.16 L253.14 503.36 L254.79 504.74 L256.89 505.4 L258.57 506.76 L260.77 506.31 L262.93 507.1 L265.1 506.65 L267.9 506.71 L270.59 505.91 L272.28 507.19 L274.31 507.73 L275.95 508.99 L277.96 509.59 L279.52 511.06 L281.54 511.61 L283.19 513.09 L285.29 513.88 L286.83 515.5 L289.28 516.15 L291.16 517.87 L293.52 518.65 L295.65 519.5 L297.92 519.94"/>
<path d="M440 442.3 L555.7 450.3"/>
<path d="M617.9 329.8 L616.25 331.46 L615.28 333.66 L613.52 335.24 L611.53 337.4 L609.17 339.16 L607.16 340.65 L604.75 341.47 L602.75 342.99 L600.84 344.02 L599.59 345.88 L597.56 346.8 L596.16 348.47 L594.18 349.72 L592.67 351.54 L590.66 352.75 L588.58 354.98 L590.63 355.32 L592.81 355.29"/>
<path d="M592.8 355.4 L595.14 354.33 L597.16 352.72 L599.95 353.18 L602.7 352.72 L604.73 354.1 L607.04 354.82 L609.11 356.18 L611.44 357.02 L612.83 358.97 L614.77 360.33 L614.89 362.6 L615.66 364.69 L615.75 366.91 L616.35 369.44 L615.87 372.06 L616.45 374.6 L615.59 376.7 L615.93 379.03 L614.81 381.06 L614.79 383.32 L614.14 385.47 L614.13 387.73 L613.52 389.89 L612.66 392.67 L611.34 395.28 L614.74 397.45 L613.55 400.78 L615.25 402.43 L616.26 404.57 L617.98 406.13 L619.14 408.21 L621.08 409.67 L622.23 411.75 L624.58 411.94 L626.68 412.88 L628.38 411.51 L630.51 410.94 L632.04 409.4 L635.37 410.7 L636.08 413.31 L636.03 416.11 L634.81 417.84 L633.15 419.25 L630.03 421.54 L628.58 424.12 L627.87 427.03 L626.36 429.56 L625.67 432.43 L626.35 434.77 L627.9 436.75 L629.26 439.72"/>
<path d="M592.8 355.4 L595.52 355.97 L598.31 355.91 L599.68 357.92 L601.66 359.24 L600.78 361.43 L600.59 363.72 L598.25 366.87 L597.82 369.19 L596.71 371.27 L596.22 373.63 L594.95 375.68 L593.73 377.3 L592 378.44 L590.78 380.08 L588.42 383.25 L585.81 384.56 L582.96 385.39 L581.03 387.46 L578.54 388.72 L578.57 391.01 L577.74 393.1 L577.65 395.31 L576.77 397.43 L576.55 399.71 L575.22 401.81 L574.36 404.13 L575.83 405.82 L577.66 407.24 L577.84 410.1 L578.71 412.78 L577.99 414.92 L578.24 417.18 L577.52 419.29 L576.8 422.17 L575.32 424.77 L573.93 427.14 L572 429.13 L570.91 430.92 L568.91 431.81 L567.77 433.57 L566.1 434.8 L564.99 436.58 L563.35 437.85 L561.89 440.21 L560.02 442.24 L559.23 444.57 L557.8 446.55 L557.02 448.58 L555.6 450.24 L555.31 452.49 L554.08 454.38 L553.56 456.52 L552.1 459.06 L551.48 461.93 L550.29 463.97 L550.18 466.38 L549.15 468.48 L549.14 470.72 L548.12 472.78 L548.17 475.01 L547.55 477.17 L547.6 479.44 L546.88 481.58 L546.97 483.82 L546.08 485.9 L545.96 488.11 L545.95 490.32 L546.54 492.48 L546.5 494.71 L546.94 496.85 L546.57 499.05 L547.08 501.2 L547.16 503.43 L548.06 505.54 L548.04 507.81 L548.96 510.44 L549.14 513.21 L551.34 509.96 L554.64 507.85 L557.86 505.54 L556.97 507.7 L556.9 510.03 L555.63 513.18"/>
<path d="M629.3 440 L630.78 441.52 L632.66 442.53 L632.94 444.99 L633.96 447.18 L634.75 449.56 L635.97 451.77 L637.01 453.88 L638.59 455.64 L640.3 456.99 L642.44 457.62 L644.26 458.63 L646.33 458.91 L648.27 460.35 L649.53 458.26 L650.25 455.73 L650.39 453.08 L650.81 450.94 L650.41 448.74 L650.95 446.6 L650.44 444.42 L650.87 442.19 L650.42 440 L650.69 437.34 L650 434.74 L650.05 432.1 L649.72 429.92 L650.48 427.78 L650.25 425.6"/>
<path d="M648.3 460.3 L649.53 462.34 L651.02 460.11 L652.99 458.37 L654.13 456.35 L656.14 458.36 L657.58 461.57 L657.96 463.61 L658.88 465.47 L659.84 467.67 L661.49 469.44 L663.27 470.61 L665.33 471.34 L668.58 472.85 L671.84 470.71 L673.75 469.76 L675.17 468.16 L677.28 467.93 L679.06 466.79 L681.75 465.58 L684.34 466.82 L687.63 464.95 L689.56 462.27 L691.38 461.22 L692.77 459.66 L693.98 457.79 L694.74 455.67 L695.55 451.81 L693.43 448.54 L692.27 445.17 L692.69 441.98 L694.86 440.06"/>
<path d="M649.6 462.3 L646.26 464.13 L644.89 465.77 L643.03 466.81 L641.97 469 L640.33 470.75 L639.35 472.92 L637.75 474.67 L636.74 476.81 L635.12 478.55 L635.2 480.66 L634.45 482.59 L636.56 485.16 L639.08 486.55 L641.83 486.81 L644.38 487.9 L641.79 488.62 L639.07 488.98 L639.49 491.1 L639 493.1 L642.42 493.61 L639.08 494.94 L636.53 497.04 L639.04 499.66 L639.85 503.49 L640.56 505.59 L641.76 507.47 L640.89 509.4 L640.48 511.43 L639.84 513.67 L639.91 516.01 L643.7 516.09 L640.45 518.08 L639.82 520.21 L639.89 522.51 L642.06 523.12 L644.41 523.13 L641.62 525.71 L641.8 528.15 L640.99 530.39 L641.8 534.28 L641.17 536.27 L641.16 538.31 L642.34 541.53 L645.03 543.46 L647.53 546.17 L647.08 550.01 L646.29 551.94 L646.37 554.01 L645.91 556.3 L646.41 558.6 L646.95 561.21 L645.05 564.53"/>
<path d="M590 518.6 L590.75 521.01 L592.08 523.16 L595.26 521.3 L598.53 522.42 L602.41 521.98 L604.53 522.58 L606.37 523.86 L608.51 524.92 L610.25 526.58 L610.39 524.46 L611.34 522.61 L611.53 520.58 L614.19 521.25 L616.96 523.11 L618.95 522.86 L620.78 521.85 L622.93 521.25 L624.65 519.8 L626.83 518.86 L628.55 517.22 L631.92 516.26 L634.53 515.97 L637.17 516.35 L639.8 515.95"/>
<path d="M645 564.5 L647.64 563.17 L650.15 561.87 L652.94 561.31 L655.38 559.66 L658.14 558.68 L660.61 556.98 L663.43 555.95 L664.99 554.59 L667.03 554.03 L668.54 552.61 L670.44 551.51 L671.92 549.85 L673.83 548.74 L675.38 547.33 L677.5 546.85 L679.07 545.46 L681.18 545.23 L682.96 544.09 L685.26 544.81 L687.61 544.71 L689.49 545.64 L691.52 546.05 L691.21 548.4 L691.55 550.7 L693 552.5 L694.85 553.95 L697.04 555.1 L699.43 555.82 L701.83 554.83 L703.95 553.21 L706.04 553.28 L707.95 552.39 L710.01 552.48"/>
<path d="M646.3 558.6 L642.41 557.82 L640.55 556.85 L639.16 555.22 L635.88 554.05 L635.15 557.29 L634.57 560.52 L630.61 559.83 L627.34 561.3 L626.68 563.46 L626.79 565.81 L627.21 569.71 L626.95 571.75 L625.94 573.58 L628.07 576.86 L628.54 580.01"/>
<path d="M695.7 440.9 L698.51 440.08 L701.07 438.63 L703.21 439.72 L705.57 439.97 L707.67 441 L710.07 442.07 L711.86 444.1 L714.23 445.25 L716.53 444.45 L718.49 442.89 L720.83 442.06 L722.79 440.55 L725.31 440.16 L727.28 438.65 L730.84 437.5"/>
<path d="M816.9 480.2 L818.88 482.07 L821.26 483.42 L822.89 484.72 L824.95 485.19 L826.68 486.34 L829.99 485.63"/>
<path d="M840 469.3 L838.96 471.12 L838.55 473.24 L837.09 474.87 L836.61 476.95 L835.2 478.71 L834.49 480.86 L832.91 482.51 L832.18 484.65 L830.83 486.28 L830.25 488.37 L828.83 489.96 L828.1 492.1 L826.54 493.76 L825.79 495.88 L824.4 497.64 L823.24 500 L821.38 501.91 L820.19 504.26 L818.51 505.65 L817.55 507.62 L815.82 508.96 L814.77 510.86 L812.74 512.11 L811.23 513.98 L809.16 515.16 L807.12 516.29 L804.8 516.77 L802.72 517.86 L800.29 518.87 L798.34 520.67 L796.84 522.62 L796.17 525.04 L795.79 527.53 L796.47 530.07 L796 532.6 L796.14 534.81 L795.5 536.98 L795.96 539.22 L795.44 541.4 L795.56 543.59 L794.88 545.73 L795.41 547.94 L794.94 550.1 L795.39 552.26 L795.04 554.46 L795.73 556.6 L795.42 558.8 L795.83 560.99 L795.44 563.22 L796.13 565.39 L796.03 567.6 L796.44 569.76 L796.11 571.98 L796.81 574.11 L796.71 576.31 L796.75 578.49 L796.06 580.6 L796.2 582.81 L795.45 584.95 L795.63 587.24 L794.92 589.39 L794.71 591.64 L793.61 593.68 L793.53 595.97 L792.72 598.08 L792.49 600.35 L791.39 602.41 L791.6 604.79 L790.65 606.89 L790.89 609.08 L790.37 611.25 L791 613.42 L790.65 615.6 L789.89 617.95 L788.4 619.95 L787.22 621.62 L785.4 622.69 L784.16 624.36 L782.33 625.96 L781.34 628.24 L779.64 629.96"/>
<path d="M709.9 552.5 L711.3 554.53 L713.17 556.14 L714.77 557.41 L716.88 557.69 L718.56 558.88 L720.62 559.35 L722.32 560.64 L724.41 561.02 L726.16 562.19 L728.77 561.75 L731.33 562.28 L733.9 562.03 L735.59 563.71 L737.72 564.76 L739.24 566.58 L740.89 567.81 L741.96 569.65 L743.78 570.72 L744.52 573.14 L745.98 575.16 L748.07 575.4 L750.23 575.04 L752.4 575.29 L754.57 574.66 L756.83 574.67 L758.99 574.04 L761.11 574.99 L763.42 575.31 L765.47 576.38 L768.38 577.06 L770.97 578.58 L773.87 579.31 L776.47 580.78 L776.26 583.46 L775.32 586.08 L774.11 588.07 L772.15 589.52 L771.09 591.67 L769.06 593.53 L767.78 595.96 L766.92 598.04 L766.66 600.32 L763.38 601.33 L762.46 604.22 L761.1 606.86 L762 608.99 L762.19 611.23 L763.91 612.49 L764.89 614.41 L766.68 615.52 L767.95 617.18 L769.68 618.38 L770.92 620.08 L772.68 621.63 L773.63 623.85 L775.46 625.35 L776.7 627.05 L778.49 628.25 L779.62 630.07"/>
<path d="M248.7 500 L250.74 501.86 L253.15 503.23 L255.22 504.17 L257.56 504.04 L259.68 504.88 L261.9 504.73 L264.01 505.47 L266.21 505.42 L268.31 506.5 L270.71 506.57 L272.78 507.65 L275.04 508.11 L277.08 509.24 L279.33 509.7 L281.3 511.71 L283.73 513.06 L285.29 514.54 L287.5 514.97 L289.05 516.48 L291.07 517.06 L292.68 518.44 L294.62 519.16 L296.7 519.98 L298.97 520.03 L301.09 520.76 L302.72 522.01 L303.92 523.75 L305.56 525.04 L307.54 526.96 L309.97 528.31 L312.07 528.68 L314.23 528.09 L316.4 528.48 L318.58 527.92 L320.82 528.34 L322.99 527.83 L325.07 528.82 L327.43 528.58 L329.47 529.61 L331.5 530.32 L333.05 531.9 L335.03 532.74"/>
<path d="M345.9 518.6 L344.57 520.26 L343.97 522.37 L342.52 523.95 L341.11 526.32 L339.26 528.37 L338.05 530.04 L336.27 531.18 L335.08 532.87"/>
<path d="M335 532.8 L336.97 534.64 L339.35 535.94 L339.56 538.81 L340.46 541.49 L340.6 544.27 L341.61 546.88 L342.31 549.77 L343.76 552.38 L343.42 554.85 L343.94 557.3 L343.48 559.75 L343.82 562.2 L341.5 561.97 L339.38 562.7 L337.19 562.59 L339 563.87 L340.35 565.56 L341.91 566.95 L342.82 568.91 L344.46 570.25 L345.5 586.9 L384.1 587.8 L384.4 590.02 L381.97 592.87 L381.58 594.95 L381.98 597.15 L381.38 599.29 L382.63 601.95 L382.91 604.82 L384.77 606.33 L386.27 608.13 L388.62 609.8 L390.63 611.89 L392.94 612.43 L394.97 613.57 L396.44 615.53 L397.14 617.93 L399.03 618.97 L400.45 620.56"/>
<path d="M400.5 620.5 L403.22 620.57 L405.89 620.01 L408.79 619.35 L411.37 617.82 L413.25 616.45 L414.64 614.54 L416.46 612.57 L417.83 610.25 L420.21 609.79 L422.26 608.6 L425.1 608.02 L427.78 606.93 L430 606.63 L432.07 605.8 L434.19 606.96 L436.52 607.35 L439.96 608.61"/>
<path d="M395 613.5 L395.85 615.49 L397.43 617.03 L398.22 619.05 L399.59 621.67 L400.4 624.54 L401.59 626.53 L401.91 628.83 L401.32 631.07 L400 633.1 L399.47 635.43 L398.46 637.87 L398.31 640.57 L397.08 642.97 L396.53 644.99 L395.21 646.71 L395.01 648.9 L393.83 650.67 L393.04 652.97 L391.48 654.89 L390.77 657.24 L389.3 659.46 L388.59 662.04 L389.97 663.54 L391.77 664.72 L394.96 666.01 L393.03 667.35 L390.66 668.02 L388.94 671.42 L389.65 673.66 L390.75 675.78 L391.39 678.64 L392.87 681.17 L392.92 683.44 L393.9 685.54 L393.83 687.81 L393.99 689.99 L393.24 692.11 L393.35 694.3 L392.75 697.12 L392.91 700.01"/>
<path d="M546.6 500 L546.6 502.23 L547.43 504.36 L547.29 506.61 L547.9 508.74 L547.59 510.96 L548.19 513.09 L551.43 510.95 L552.8 509.05 L554.67 507.66 L556.02 505.93 L557.94 504.84 L557.58 507.35 L556.75 509.79 L556.39 512.11 L555.21 514.17"/>
<path d="M555.3 514.2 L557.59 515.55 L560.14 516.31 L562.68 517.8 L565.52 518.55 L568.19 519.8 L571.03 520.63 L572.84 522 L574.95 522.81 L576.01 520.29 L576.41 517.47 L578.31 516.05 L579.63 514.13 L582.97 516.45 L586.26 514.13 L588.38 516.01 L590.77 517.41"/>
<path d="M548.1 513.1 L548.2 515.34 L549.12 517.45 L549.09 519.72 L548.72 521.95 L547.47 523.94 L547.09 526.23 L546.07 528.34 L545.8 530.69 L544.71 532.77 L544.4 535.43 L543.16 537.82 L542.67 540.42 L542.05 542.54 L542.22 544.79 L541.4 546.88 L540.59 549.17 L539.01 551.13 L538.41 553.55 L536.91 556.13 L536.19 559.03 L533.28 559.87 L530.62 561.15 L528.72 563.13 L527.34 565.53 L526.06 568.18 L525.26 571.02 L523.96 572.71 L523.23 574.74 L521.83 576.36 L519.86 577.82 L517.37 578.35 L515.34 579.78 L513.35 580.56 L511.87 582.17 L509.86 582.93 L508.59 584.6 L506.69 585.58 L505.58 587.39 L504.06 589.92 L503.39 592.84 L501.68 594.49 L500.6 596.6 L498.95 598.26 L498.05 600.19 L496.51 601.72 L495.77 603.74 L494.62 605.79 L494.47 608.18 L493.39 610.26 L493.86 612.47 L493.34 614.63 L493.56 616.8 L493.68 619.62 L494.68 622.28 L495.59 625.54"/>
<path d="M440 609.8 L442.06 611.34 L444.45 612.32 L446.46 613.44 L448.8 613.68 L450.88 614.65 L453.06 613.99 L455.34 614.09 L457.48 613.4 L460.27 613.27 L462.88 612.31 L465.54 613.77 L468.44 614.51 L470.65 614.24 L472.78 613.42 L475.07 612.06 L477.03 610.21 L479.01 609.49 L480.6 608.05 L482.62 607.45 L482.92 609.48 L482.36 611.55 L482.86 613.62 L482.49 615.7 L480.5 617.48 L478.17 618.96 L479.41 622.26 L481.45 622.94 L483.73 622.85 L485.88 623.52 L488.1 623.21 L490.22 623.99 L492.41 623.92 L495.68 625.55"/>
<path d="M495.7 625.5 L495.99 628.3 L496.89 630.98 L499.5 631.38 L502.2 630.92 L500.84 633.65 L500.08 636.53 L502.68 637.74 L505.53 638.52 L508.13 639.99 L511.04 640.7 L512.7 642.06 L514.72 642.8 L516.37 644.15 L518.73 644.64 L520.68 646.14 L523.02 646.65 L525.57 647.98 L528.44 648.39 L531.03 649.89 L533.93 650.61 L536.01 651.93 L538.32 652.76 L539.72 654.37 L541.53 655.46"/>
<path d="M541.5 655.5 L543.37 653.25 L544.73 650.65 L546.54 649.5 L547.54 647.57 L549.26 646.36 L550.02 643.44 L551.46 640.82 L553.06 639.49 L555.16 638.93 L556.75 637.51 L559.39 637.41 L561.9 636.64 L564.51 636.55 L566.61 635.78 L568.89 636.09 L570.99 635.35 L573.33 635.04 L575.28 633.56 L577.63 633.29 L579.67 632.18 L582 631.92 L584.08 630.95 L586.27 631.29 L588.45 630.83 L590.62 631.21 L592.8 630.93 L594.97 631.53 L597.24 631.47 L599.39 632.18 L601.63 632.11 L603.69 633.11 L605.92 633.11 L608.23 632.35 L610.16 630.71 L612.54 629.97 L614.18 628.61 L616.31 628.04 L617.84 626.5 L618.78 624.52 L618.65 622.19 L619.57 620.12 L618.13 618.58 L617.29 616.67 L615.76 615.25 L614.78 613.44 L615.56 610.7 L617 608.14 L618.13 606.11 L620.07 604.67 L621.11 602.53 L620.99 600.41 L620.26 598.3 L620.21 596.08 L618.79 594.02 L618.32 591.53 L616.83 589.53 L617.41 587.36 L617.26 585.12 L618 583.02 L618.95 581.85"/>
<path d="M599 571 L617.9 571 L617.9 582.5 L599 582.5 L599 571"/>
<path d="M619 581.9 L621.04 581.73 L622.89 580.71 L625.01 580.89 L626.88 579.95 L628.91 579.75"/>
<path d="M541.5 655.5 L540.15 657.89 L539.38 660.54 L538.92 663.2 L539.38 665.9 L537.47 667.93 L536.17 670.35 L533.78 671.79 L531.75 673.67 L529.99 675.2 L529.04 677.42 L527.26 678.97 L526.44 681.3 L525 683.32 L524.2 685.65 L522.71 687.62 L522.05 690.01 L520.69 692.05 L520.34 694.23 L518.86 695.93 L518.61 698.14 L517.45 699.98"/>
<path d="M539.3 665.9 L541.27 665.07 L542.82 663.51 L544.86 662.8 L546.96 662.07 L549.25 662.24 L551.39 661.51 L553.88 662.53 L556.55 662.79 L558.97 663.89 L561.58 663.79 L564.04 664.65 L566.61 664.73 L569.14 665.35 L571.78 665.18 L574.29 666 L577.62 666.95 L577.2 669.2 L577.72 671.4 L580.77 672.59 L584.05 670.22 L584.1 672.52 L584.55 674.7 L585.67 672.04 L586.25 669.18 L588.5 669.04 L590.6 668.25 L592.81 668.15 L595.02 668 L597.18 668.7 L599.41 668.49 L601.63 668.34 L603.66 667.23 L605.92 667.08 L608.1 666.68 L610.3 667.27 L612.5 666.93 L614.8 666.84 L616.87 665.78 L617.89 668.28 L619.59 670.25"/>
<path d="M781.1 630.1 L780.72 632.42 L781.03 634.79 L780.41 637.09 L780.99 639.28 L780.48 641.51 L781.02 643.69 L780.8 645.9 L781.08 648.09 L780.4 650.22 L780.6 652.41 L779.17 654.49 L778.61 656.96 L777.15 658.97 L775.9 660.93 L773.97 662.36 L772.86 664.45 L771.54 667.07 L770.8 669.94 L769.31 672.48 L768.55 675.32 L766.62 677.32 L765.28 679.76 L763.59 681.03 L762.49 682.86 L760.76 684.06 L759.54 685.7 L757.81 686.84 L756.54 688.44 L754.72 690.38 L753.66 692.84 L752.47 695.45 L752.18 698.32 L752.03 700.5 L752.93 702.59 L752.7 704.81 L753.26 708.09 L750.87 708.93 L748.84 710.38 L746.03 711.16 L743.42 712.45 L741.03 713.17 L739.04 714.68 L737.2 716.1 L735.76 717.96 L733.88 719.97 L732.48 722.36 L734.53 725.55 L733.67 727.78 L732.3 729.85 L729.66 729.53 L727.01 728.73 L724.8 728.97 L722.6 728.46 L720.4 728.86 L718.25 728.38 L716.06 728.72 L713.91 728.32 L711.17 728.92 L708.39 728.71 L707.59 726.72 L707.38 724.48 L705.23 725.57 L705.4 727.77 L706.25 729.89 L703.63 730 L701.16 730.85 L698.58 730.89 L696.41 731.25 L694.28 730.56 L692.1 730.66 L689.87 730.47 L687.71 731.09 L685.43 731.95 L683.34 733.29 L679.96 734.19 L677.97 735.63 L675.67 736.43 L673.63 737.82 L671.25 738.5 L669.15 739.37 L666.88 739.63 L664.87 741.51 L662.54 742.93 L659.35 745.27 L659.64 747.45 L660.47 749.58 L657.12 748.45 L654.89 748.37 L652.83 747.38 L650.58 747.49 L648.33 747.92 L646.32 749.23 L643.98 749.53 L641.9 750.36 L639.69 750.65 L637.96 751.94 L635.93 752.65 L634.23 753.96 L632.18 754.68 L630.65 756.29 L628.67 757.14 L627.06 758.56 L624.9 759.08 L623.34 760.56 L619.94 762.61"/>
<path d="M683.3 727.7 L680.6 727.4 L677.9 727.78 L675.57 728.53 L673.53 729.96 L672.08 731.94 L671.4 734.35 L674.55 736.58 L676.11 734.71 L677.96 733.26 L679.99 732.42 L682.22 732.16"/>
<path d="M768.9 621 L765.2 621.12 L761.92 621.89 L759.12 621.98 L756.52 622.98 L757.52 626.23 L754.91 627.05 L752.09 627.24 L751.26 630.16 L749.81 632.77 L750.61 634.91 L750.45 637.16 L751.07 639.29 L747.67 641.45 L750.52 641.7 L753.18 642.7 L752.82 645.33 L751.98 647.98 L753.55 650.02 L754.21 652.44 L752.9 654.78 L750.95 656.76 L750.05 659.56 L748.72 662.17 L747.86 665.01 L746.54 667.68 L744.56 671.04 L742.3 670.83 L740.1 671.27 L737.9 670.92 L737.12 673.31 L735.62 675.26 L735.88 677.88 L735.15 680.42 L735.4 683"/>
<path d="M735.3 683 L735.54 685.23 L736.59 687.27 L736.69 689.53 L739.63 690.14 L742.27 691.38 L744.5 691.27 L746.61 692.04 L748.81 692.02 L751.16 692.76 L753.62 692.7"/>
<path d="M735.3 683 L733.65 684.42 L732.47 686.26 L729.16 687.19 L729.1 689.54 L728.19 691.65 L728.19 693.91 L727.17 696 L726.9 698.32 L725.81 700.37 L724.89 702.65 L721.98 703.53 L719.33 704.86 L716.53 705.73 L713.94 707.1 L711.6 707.42 L709.55 708.63 L707.26 709.09 L705.13 709.59 L702.97 708.88 L700.8 709.29 L698.54 709.75 L696.45 710.82 L694.17 711.32 L692.08 712.14 L689.81 712.33 L687.72 713.16 L685.45 713.67 L683.39 714.82 L681.07 715.22 L679.05 716.38 L676.68 716.5 L674.63 717.59 L673.43 718.95 L670.75 719.32 L668 718.92 L665.39 720.31 L662.55 721.09 L659.93 722.14 L657.08 722.19 L654.87 722.07 L652.82 721.13 L652.46 723.4 L651.63 725.48 L648.98 726.22 L646.18 726.5 L644.08 727.22 L641.81 726.98 L639.71 727.77 L639.53 724.92 L638.49 722.32 L637.06 720.54 L635.26 719.04 L634.55 716.11 L633.02 713.53 L632.94 710.72 L631.92 708.12 L633.26 705.98 L633.92 703.56 L635.39 701.55 L634 699.45 L633.15 697.18 L630.3 696.89 L627.62 695.98 L625.75 694.69 L624.44 692.76 L623.1 690.13 L622.25 687.28 L621.48 685.19 L621.2 682.97 L621.45 680.75 L622.29 678.62 L621.21 676.52 L620.93 674.2 L619.9 672.13"/>
<path d="M673.5 719 L674.52 722.33 L677.24 721.46 L680.02 721.31 L682.32 722.06 L684.36 723.48 L684.14 725.62 L683.24 727.68"/>
<path d="M391.8 680 L392.14 682.27 L393.28 684.32 L393.49 686.63 L393.64 689.16 L392.85 691.64 L392.99 694.21 L392.5 696.72 L392.78 699.29 L392.21 701.79 L392.48 704.39 L391.78 706.92 L391.87 709.5 L393.94 710.41 L396.31 710.63 L398.37 711.79 L400.96 711.9 L403.41 712.82 L406.02 712.68 L408.53 713.45 L411.17 713.16 L413.69 713.86 L416.21 713.3 L418.8 713.42 L421.29 712.75 L424.63 710.65 L426.4 712.04 L427.87 713.84 L430.11 713.9 L432.19 714.8 L434.42 714.79 L436.47 716.25 L438.84 717.02 L439.27 719.39 L440.57 721.4 L440.92 723.73 L441.92 726.17 L442.01 728.87 L443.22 731.27 L443.11 733.92 L444.16 736.39 L444.13 739.01 L444.78 741.13 L444.71 743.37 L445.35 745.49 L446.09 747.85 L447.57 749.87 L449.68 750.4 L451.92 749.91 L454.09 750.42 L456.7 749.2 L459.51 748.85 L462.25 748.59 L465 748.91 L467.3 749.97 L469.24 751.7"/>
<path d="M518.5 698.6 L517.12 701.19 L516.37 704.03 L514.6 705.65 L513.53 707.8 L511.82 709.43 L510.32 711.21 L508.1 712.12 L506.54 713.85 L504.49 715.04 L502.98 716.92 L500.96 718.15 L498.82 720.17 L496.13 721.4"/>
<path d="M496.2 721.5 L498.55 721.6 L500.85 720.87 L503.21 721.11 L505.34 720.53 L507.56 720.88 L509.69 720.31 L511.9 720.6 L514.1 720.12 L516.3 720.49 L518.53 720.42 L520.6 721.31 L522.81 721.43 L524.97 722.05 L527.26 721.88 L529.38 722.7 L531.6 722.8 L533.67 723.72 L535.92 723.58 L538 724.73 L540.4 724.87 L542.48 725.96 L544.72 726.44 L546.75 727.57 L549.02 727.95 L551.18 728.37 L553.42 728.12 L555.6 728.55 L557.79 728.43 L559.91 729.16 L562.11 728.99 L564.17 730.45 L566.54 731.22 L567.56 733.64 L569.18 735.65 L569.13 738.27 L569.93 740.74 L569.88 743.31"/>
<path d="M496.2 721.5 L493.59 722.35 L491.24 723.78 L489.17 724.44 L487.67 726.07 L485.66 726.83 L484.88 729.76 L483.44 732.38 L482.13 734.77 L480.22 736.75 L478.89 738.65 L476.96 739.96 L476.12 742.84 L474.75 745.48 L474.02 747.86 L472.51 749.86 L469.32 751.65"/>
<path d="M469.3 751.6 L470.31 755.33 L470.29 757.54 L469.37 759.65 L469.36 761.91 L468.45 763.99 L468.65 766.31 L467.71 768.38 L467.43 770.65 L466.39 772.73 L466.17 775.02 L464.8 777.62 L464.01 780.44 L464.06 782.7 L465.05 784.79 L467.63 785.71 L470.42 785.81 L472.68 785.39 L474.78 784.34 L478.06 785.99 L478.91 788.6 L479.1 791.42 L480.58 793.4 L481.35 795.73 L483.59 798.94"/>
<path d="M483.5 799 L486.22 799.62 L489.01 799.61 L491.14 800.21 L493.35 799.7 L495.49 800.18 L498.31 800.35 L500.99 801.26 L503.25 801.29 L505.35 802.24 L507.62 802.2 L509.74 802.85 L511.97 802.8 L514.09 803.45 L516.38 803.55 L518.43 804.72 L520.71 804.85 L522.79 805.72 L525.11 805.38 L527.18 806.29 L529.97 806.09 L532.7 806.66 L533.09 804.41 L533.88 802.32 L535.27 800.53 L537.04 799.04 L539.71 798.24 L542.51 797.95 L544.58 796.91 L546.92 796.69 L548.97 795.6 L551.25 795.61 L553.35 794.66 L555.61 794.68 L557.74 794.08 L559.96 794.47 L562.09 793.93 L563.99 794.82 L566.13 794.46 L567.95 795.63 L570.02 795.6"/>
<path d="M483.5 799 L483 801.73 L483.18 804.51 L482.57 806.63 L482.84 808.86 L482.29 810.99 L483.1 813.14 L483.01 815.41 L481.45 818.63"/>
<path d="M481.4 818.6 L483.61 818.53 L485.69 817.64 L487.92 817.71 L490.45 817.46 L492.95 818.15 L495.5 817.91 L498.19 819.05 L501.03 819.62 L503.15 820.37 L505.46 820.09 L507.59 820.85 L509.81 820.94 L511.9 821.71 L514.12 821.8 L516.2 822.94 L518.55 823.21 L520.66 824.21 L523.55 824.84 L526.06 826.39 L528.09 827.14 L529.66 828.67 L531.63 829.56 L532.83 831.24 L534.59 832.34 L535.86 833.94 L538.23 835.38 L540.27 837.24 L541.96 838.47 L543.05 840.32 L544.78 841.52 L546.35 842.91 L548.46 843.46 L550.06 844.87 L552.73 845.02 L555.18 846.13 L557.81 846.33 L559.93 847 L562.17 846.4 L564.29 847.11 L567.65 849.12 L565.34 852.46 L564.49 854.8 L563.14 856.87 L562.82 859.09 L562 861.17 L560.06 863.45 L563.16 864.6 L566.52 865.53"/>
<path d="M481.4 818.6 L479.11 819.05 L477.08 820.32 L474.77 820.71 L472.7 821.73 L470.35 821.93 L468.33 823.1 L465.96 823.82 L463.99 825.38 L461.66 826.22 L460.02 827.95 L457.9 829.06 L456.27 830.79 L454.2 831.42 L452.69 832.98 L450.74 833.81 L449.16 835.6 L446.98 836.64 L445.34 838.35 L443.3 839.52 L441.87 841.44 L439.84 842.62 L438.66 844.36 L436.83 845.43 L435.57 847.07 L433.75 848.19 L432.84 850.21 L431.03 851.33 L429.8 853.34 L428.11 854.97 L426.85 856.94 L425.03 858.46 L424.05 860.65 L422.34 862.25 L420.83 864.4 L418.57 865.8 L416.96 867.86 L414.91 869.41 L413.42 871.52 L411.44 873.14 L409.89 874.95 L407.71 875.98 L406.04 877.65 L402.75 879.94"/>
<path d="M563.6 729.7 L564.84 731.36 L566.69 732.41 L567.83 734.17 L568.98 736.64 L569.65 739.32 L570.25 741.3 L570.08 743.4 L570.71 745.38 L571.48 747.6 L573.2 749.32 L574.02 751.54 L575.67 753.54 L576.65 755.93 L577.12 758.48 L576.94 761.1 L576.81 765.01 L579.28 765.42 L581.91 765.39 L584.53 765.93 L587.21 765.9 L589.59 766.83 L592.12 767.13 L591.89 769.42 L592.45 771.6 L595.89 772.05 L599.44 773.29 L599.99 775.65 L601.15 777.68 L603.09 776.72 L604.53 775.01 L606.44 773.44"/>
<path d="M622.1 761.1 L620.24 762.08 L618.81 763.7 L616.85 764.52 L615.37 766.35 L613.24 767.38 L611.64 769.05 L609.28 770.6 L607.24 772.55 L605.63 774.05 L604.65 776.03 L602.65 777.55 L601.14 779.54 L599.19 781.09 L597.66 783.06 L595.57 784.92 L594.17 787.36 L592.66 789.42 L591.56 791.73 L590.94 794.29 L592.05 796.39 L592.3 798.73 L592.3 800.97 L591.39 803.08 L590.97 805.81 L589.69 808.26 L590.6 810.84 L590.63 813.51 L591.9 816.04 L592.32 818.83 L594.35 819.83 L595.85 821.47 L595.71 823.65 L594.93 825.79 L594.4 828.48 L593.23 830.98 L592.88 833.64 L592 836.18 L591.74 838.94 L590.58 841.47 L589.64 844.25 L587.92 846.66 L586.46 848.15 L584.43 848.87 L582.85 850.28 L580.89 851.46 L579.46 853.29 L577.56 854.55 L575.58 856.57 L573.16 858.05 L570.65 860.07"/>
<path d="M570 795.7 L571.33 797.85 L574.86 796.01 L577.22 795.5 L579.28 794.25 L581.36 794.16 L583.33 793.45 L585.41 793.47 L588.2 793.05 L591 793.5"/>
<path d="M455.5 831.7 L453.19 832.91 L451.33 834.81 L448.94 835.9 L446.95 837.69 L444.44 838.7 L442.45 840.48 L440.44 841.71 L438.91 843.55 L436.84 844.73 L435.74 846.82 L433.89 848.29 L432.65 850.24 L430.99 851.92 L429.94 854.09 L428.12 855.64 L426.87 857.61 L424.96 859.05 L423.89 861.17 L421.77 862.71 L420.42 864.98 L418.36 866.56 L416.68 868.55 L414.53 870.06 L412.94 872.14 L410.97 873.37 L409.44 875.14 L407.47 876.36 L405.46 878.27 L403.05 879.64 L401.68 881.38 L399.74 882.43 L403.14 884.02 L405.95 883.26 L408.56 881.81 L410.82 881.61 L412.88 880.73 L415 881.74 L417.33 881.78 L418.91 883.62 L421.17 884.51 L422.76 886.26 L424.74 887.5 L426.26 889.31 L428.23 890.56 L429.42 892.31 L431.31 893.35 L432.52 895.08 L433.93 897.6 L434.69 900.44 L436.86 899.5 L439.11 899.35 L442.37 897.15 L443.79 899.07 L445.76 900.34 L447.61 902.36 L450.05 903.64 L451.74 904.95 L453.83 905.63 L455.45 907.09 L458.33 907.89 L460.98 909.25 L463.26 910.09 L465.25 911.5 L467.19 912.75 L468.56 914.64 L470.22 915.91 L471.4 917.66 L473.04 918.96 L474.94 920.93 L477.34 922.25 L479.33 924.14 L481.75 925.44 L483.19 927.82 L485.08 929.84 L486.51 931.69 L488.37 933.13 L490.96 933.93 L493.72 934.22 L495.99 933.39 L498.07 932.04 L500.03 930.73 L501.33 928.73 L502.47 925.52 L504.55 924.4 L504.95 926.7 L505.77 928.78 L504.79 931.48 L504.69 934.32 L502.85 936.34 L501.5 938.67 L499.15 938.95 L497.02 939.76 L495.11 941.11 L493.75 943.05 L490.36 945.14 L489.51 947.48 L488.25 949.58 L488.35 951.78 L487.73 953.89 L489.38 957.57 L491.58 957.09 L493.67 956.02 L495.44 954.91 L496.44 952.97 L498.16 951.76 L499.25 949.67 L501.13 948.23 L502.35 946.26 L503.82 944.66 L504.29 942.45 L505.76 940.83 L506.62 938.54 L508.2 936.62 L508.9 934.25 L510.29 932.19 L510.85 929.73 L512.4 927.75 L513.66 925.37 L515.56 923.45"/>
<path d="M577.8 853.5 L575.84 855.2 L574.37 857.4 L572.23 858.93 L570.92 861.06 L568.8 862.45 L567.35 864.45 L565.79 866.05 L565.1 868.24 L563.54 869.86 L562.78 871.87 L561.18 873.37 L560.39 875.35 L559.03 877.42 L558.29 879.8 L556.9 881.85 L556.14 883.83 L554.68 885.39 L553.89 887.35 L552.43 888.97 L551.77 891.07 L550.42 892.75 L549.28 894.83 L547.41 896.34 L546.17 898.36 L544.49 899.98 L543.35 902.05 L541.66 903.67 L540.05 905.68 L537.82 907.09 L536.35 909.25 L534.22 910.32 L532.8 912.28 L530.74 913.43 L529.23 915.25 L526.99 916.18 L525.44 917.94 L523.41 918.74 L521.89 920.37 L519.87 921.15 L517.78 922.46 L515.45 923.3"/>
<path d="M515.5 923.4 L515.27 921.14 L514.41 919.02 L516.33 917.57 L517.66 915.66 L518.95 913.06 L519.83 910.27 L522.24 908.83 L524.24 906.91 L526.65 905.61 L528.54 903.63 L529.96 901.63 L530.71 899.26 L532.08 896.67 L532.93 893.87 L534.28 891.79 L535.1 889.45 L534.82 886.77 L534 884.12 L534.08 881.88 L533.6 879.71 L536.25 881.96 L538.56 885.16 L540.57 886.05 L542.81 886.15 L545.08 885.31 L547.15 884 L549.44 883.08 L549.88 885.12 L549.88 887.32 L548.4 890.65 L547.03 892.72 L546.17 895.04 L544.31 896.51 L542.85 898.35 L541.15 899.51 L540.07 901.31 L538.43 902.53 L536.99 904.9 L535.15 906.96 L533.21 908.93 L530.75 910.24 L529.13 911.59 L527.05 912.17 L525.44 913.57 L523.05 914.95 L521.03 916.84 L519.11 918.21 L517.78 920.18"/>
<path d="M424.7 290.7 L385.2 379"/>
<path d="M556.9 227.3 L556.9 229.2 L557.58 230.99 L559.16 232.05 L561.05 232.59 L562.73 232.88 L564.47 232.38 L566.2 232.83 L568.44 232.95 L570.58 233.7 L570.01 235.51 L568.75 237.07 L570.67 237.7 L572.25 238.9 L573.84 240.37 L574.81 242.37 L577.18 242.99 L579.27 244.17 L581.36 244.16 L583.33 244.95 L585.42 244.77 L587.11 245.46 L588.95 244.96 L590.61 245.86 L592.41 245.69 L593.85 246.88 L595.54 247.53 L594.81 249.26 L595.2 251.14 L594.41 252.78 L594.47 254.56 L593.78 256.23 L593.87 258.01 L595.13 259.54 L596.88 260.61 L598.69 259.54 L600.22 257.9 L601.76 257.13 L602.5 255.53 L603.86 254.56 L605.36 253.37 L607.23 252.85"/>
<path d="M607.2 252.8 L609.19 253.88 L611.4 252.29 L613.38 253.5 L615.41 252.49 L616.74 254.63 L618.66 254.22 L619.92 256.3 L622.26 255.13 L623.7 256.58 L625.88 255.88 L627.16 257.98 L629.18 257.76 L630.18 259.69 L632.52 258.52 L633.22 261.06 L635.28 260.52 L637.04 261.97 L639.44 261.23 L641.22 262.67 L643.82 262.67 L644.62 265.25 L646.73 264.15 L648.12 266.44 L650.06 265.56 L651.49 267.33 L653.88 266.94 L655.16 268.79 L657.34 268.4 L657.78 270.99 L659.79 270.94 L660.46 272.97 L662.45 273.65 L664.22 272.51 L664.61 270.09 L666.89 270.31 L668.27 268.65 L669.51 271.12 L671.99 270.95 L672.4 273.09 L674.97 273.45 L675.27 275.6 L677.03 276.52 L676.04 279.08 L678.16 279.8 L677.59 281.95 L679.74 283.17 L679.41 285.19"/>
<path d="M679.7 285.1 L678.57 286.41 L678.21 288.18 L677.04 289.47 L678.69 290.51 L679.66 292.14 L679.14 294.41 L677.88 296.45 L677.29 298.73 L676.11 300.76 L676.14 302.63 L675.34 304.29 L678.03 305.12 L679.19 303.92 L679.47 302.11 L680.7 300.86 L681.29 298.56 L682.47 296.53 L684.02 294.98 L685.96 293.88 L687.71 293.83 L689.27 294.8 L688.31 296.68 L686.63 298.15 L684.17 300.09 L685.68 299.28 L686.9 297.98 L688.56 297.39 L689.4 295.87 L691.04 295.17 L691.96 293.76 L693.9 292.7 L695.46 291.14 L697.78 291.2 L699.99 290.58 L696.88 291.33"/>
<path d="M644.5 265.5 L643.66 267.27 L644.25 269.4 L643 271.08 L643.06 273.06 L641.59 274.53 L641.41 276.44 L640.15 277.97 L640.51 279.93 L639.3 281.46 L639.73 283.52 L638.56 285.05 L638.57 287 L637.15 288.45 L637.08 290.36 L636.02 291.97 L636.14 293.95 L635.12 295.57 L634.66 297.53 L633.28 299.04 L633.8 300.94 L632.42 302.5 L632.7 304.32 L631.37 305.89 L631.51 308.15 L629.92 309.56 L629.59 311.59 L627.8 312.86 L627.45 314.88 L626.04 316.34 L626.09 318.53 L624.57 319.93 L624.32 321.76 L622.38 322.59 L622.24 324.48 L620.66 325.65 L620.01 327.53 L618.44 328.67"/>
</g>
<rect x="30.6" y="8.5" width="871" height="1040.7" fill="none" stroke="#333" stroke-width="1.2"/>
<!-- title -->
<text class="dj" transform="translate(455.5,58.6) scale(1,1.025)" font-size="36.1" text-anchor="middle">Previsão de risco</text>
<text class="dj" transform="translate(456.3,102.3) scale(1,1.025)" font-size="36.1" text-anchor="middle">Hidrológico</text>
<!-- tick labels -->
<text class="dj" x="137.4" y="1068.2" font-size="16.67" text-anchor="middle">70°W</text>
<text class="dj" x="349" y="1068.2" font-size="16.67" text-anchor="middle">60°W</text>
<text class="dj" x="562" y="1068.2" font-size="16.67" text-anchor="middle">50°W</text>
<text class="dj" x="774.3" y="1068.2" font-size="16.67" text-anchor="middle">40°W</text>
<text class="dj" font-size="16.67" text-anchor="middle" transform="translate(21.3,32.6) rotate(-90) scale(0.85,1)">10°N</text>
<text class="dj" font-size="16.67" text-anchor="middle" transform="translate(21.3,245.1) rotate(-90) scale(0.85,1)">0°</text>
<text class="dj" font-size="16.67" text-anchor="middle" transform="translate(21.3,457.1) rotate(-90) scale(0.85,1)">10°S</text>
<text class="dj" font-size="16.67" text-anchor="middle" transform="translate(21.3,669.6) rotate(-90) scale(0.85,1)">20°S</text>
<text class="dj" font-size="16.67" text-anchor="middle" transform="translate(21.3,882.1) rotate(-90) scale(0.85,1)">30°S</text>
<!-- legend -->
<rect x="94" y="683.5" width="36.5" height="25.5" fill="#ff0000" stroke="#000" stroke-width="1"/>
<rect x="94" y="719.5" width="36.5" height="26" fill="#ffa500" stroke="#000" stroke-width="1"/>
<rect x="94" y="755.7" width="36.5" height="26" fill="#ffff00" stroke="#000" stroke-width="1"/>
<rect x="94" y="792.3" width="36.5" height="25.5" fill="#ffffff" stroke="#000" stroke-width="1"/>
<text class="dj" x="136.5" y="705" font-size="16.85">Muito Alto</text>
<text class="dj" x="136.5" y="741" font-size="16.85">Alto</text>
<text class="dj" x="137" y="778" font-size="16.85">Moderado</text>
<text class="dj" x="137" y="813.3" font-size="16.85">Baixo</text>
<text class="dj" x="94" y="983" font-size="16.85">Atualizada para o dia 26/09/2025</text>
<!-- scale bar -->
<rect x="595.8" y="957" width="214.2" height="13.5" fill="#000"/>
<rect x="623.1" y="958" width="25.9" height="11.5" fill="#fff"/>
<rect x="676" y="958" width="26.5" height="11.5" fill="#fff"/>
<text class="ar" x="595" y="948.7" font-size="15" text-anchor="middle">600</text>
<text class="ar" x="648.8" y="948.7" font-size="15" text-anchor="middle">300</text>
<text class="ar" x="702.5" y="948.7" font-size="15" text-anchor="middle">0</text>
<text class="ar" x="797" y="948.7" font-size="15">600 km</text>
<text class="ar" x="714.5" y="991.6" font-size="14.4" text-anchor="middle">1:20000000</text>
<text class="ar" x="714" y="1026.1" font-size="17.5" text-anchor="middle">Sistemas de Coordenadas: GCS WGS - 1984</text>
<text class="ar" x="714.6" y="1046" font-size="17.5" text-anchor="middle">Datum: WGS - 1984</text>

<!-- Cemaden logo -->
<g transform="translate(680,55) scale(0.15831)">
<path d="M58 300 Q230 50 450 50 Q690 50 850 300 Q690 545 450 545 Q230 545 58 300Z" fill="#2a93df"/>
<path d="M58 298 Q230 50 450 50 Q690 50 850 300 Q770 390 668 442 L700 285 L232 285 Q240 200 282 150 Q160 200 58 298Z" fill="#0b356b"/>
<!-- right white crescent -->
<path d="M470 56 C640 60 760 200 745 300 C735 370 700 420 668 448 L640 445 A232 232 0 0 0 470 68Z" fill="#fff"/>
<!-- left white crescent -->
<path d="M285 148 C90 250 120 470 430 545 L430 524 A226 226 0 0 1 285 152Z" fill="#fff"/>
<path d="M58 300 Q170 200 285 148" stroke="#fff" stroke-width="5" fill="none"/>
<path d="M850 300 Q770 390 655 448" stroke="#fff" stroke-width="5" fill="none"/>
<circle cx="458" cy="300" r="173" fill="#fff"/>
<!-- C opening + inner disc -->
<clipPath id="cl"><path d="M563 300 A105 105 0 1 0 540 366 L672 372 Q690 300 665 218 L600 240 L540 240 A105 105 0 0 1 563 300Z"/></clipPath>
<g clip-path="url(#cl)">
<rect x="340" y="180" width="360" height="240" fill="#0b356b"/>
<path d="M400 340 Q500 330 560 290 Q610 250 670 215 L700 215 L700 340Z" fill="#f7a120"/>
<path d="M345 315 Q400 338 450 336 Q520 325 580 306 Q640 296 700 308 L700 420 L345 420Z" fill="#4aa61e"/>
<path d="M345 342 Q400 368 450 375 Q500 374 545 352 L560 420 L345 420Z" fill="#2a93df"/>
</g>
</g>
<text x="753" y="169.3" font-family="'Liberation Sans',sans-serif" font-size="31" fill="#14325e" text-anchor="middle" textLength="155" lengthAdjust="spacingAndGlyphs">Cemaden</text>

<!-- compass -->
<g transform="translate(716,885.4)">
<g id="arm"><path d="M0 -28 L7.5 -7.5 L0 0Z" fill="#000" stroke="#000" stroke-width="0.5"/><path d="M0 -28 L-7.5 -7.5 L0 0Z" fill="#fff" stroke="#000" stroke-width="0.6"/></g>
<use href="#arm" transform="rotate(90)"/><use href="#arm" transform="rotate(180)"/><use href="#arm" transform="rotate(270)"/>
<circle r="12" fill="#fff" stroke="#000" stroke-width="1.3"/>
<circle r="9.6" fill="#fff" stroke="#000" stroke-width="0.8"/>
<path d="M0 0 L0 -9.6 A9.6 9.6 0 0 1 9.6 0Z" fill="#000"/>
<path d="M0 0 L0 9.6 A9.6 9.6 0 0 1 -9.6 0Z" fill="#000"/>
</g>
<text class="tm" x="716" y="853" font-size="12.5" text-anchor="middle">N</text>
<text class="tm" x="716" y="927.5" font-size="12.5" text-anchor="middle">S</text>
<text class="tm" x="679.5" y="889.8" font-size="12.5" text-anchor="middle">W</text>
<text class="tm" x="751" y="889.8" font-size="12.5" text-anchor="middle">E</text>

</svg>
</body></html>
